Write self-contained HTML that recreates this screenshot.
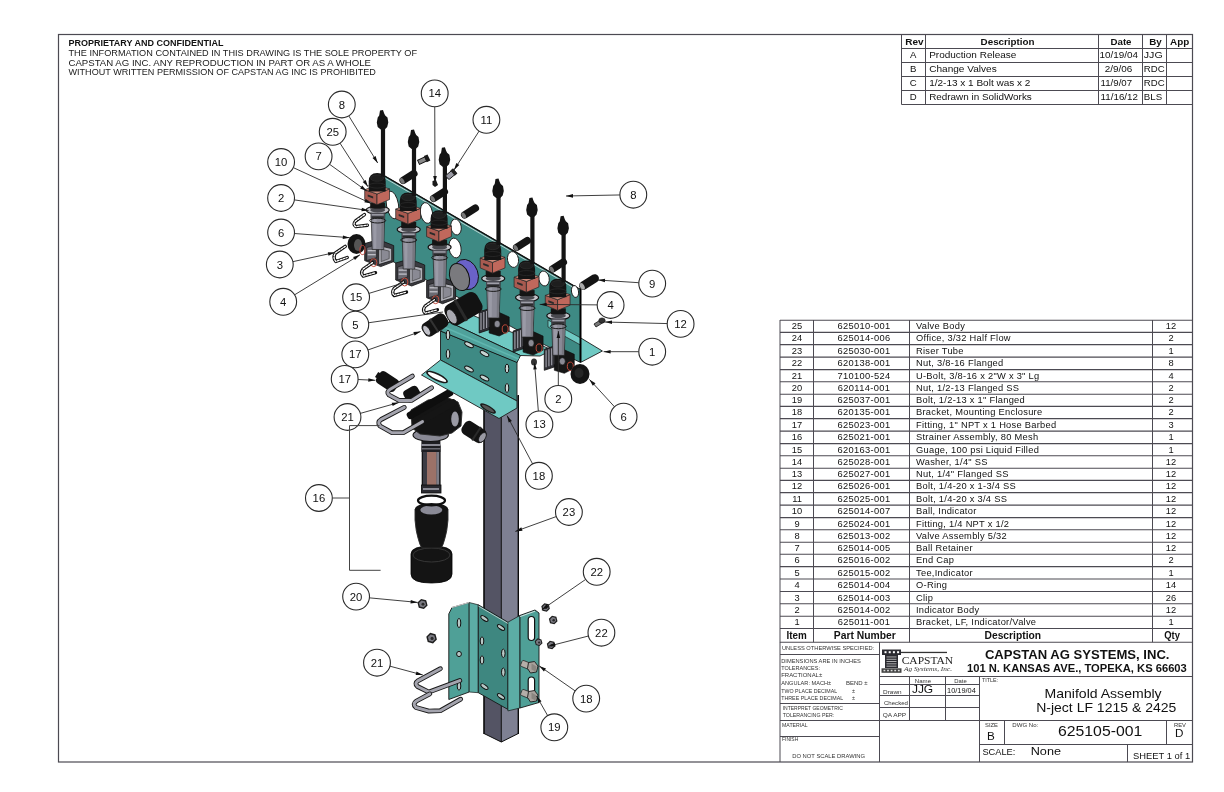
<!DOCTYPE html>
<html><head><meta charset="utf-8"><title>Manifold Assembly</title>
<style>html,body{margin:0;padding:0;background:#fff;width:1224px;height:792px;overflow:hidden}svg{display:block;will-change:transform}text{font-family:"Liberation Sans",sans-serif}</style>
</head><body>
<svg width="1224" height="792" viewBox="0 0 1224 792">
<rect width="1224" height="792" fill="#fff"/>
<polygon points="484.0,395.0 501.3,404.0 501.3,742.0 484.0,733.5" fill="#545464" stroke="none" stroke-width="0.8" />
<polygon points="501.3,404.0 518.3,395.0 518.3,733.5 501.3,742.0" fill="#7e8092" stroke="none" stroke-width="0.8" />
<line x1="484" y1="395" x2="484" y2="734" stroke="#0a0a0a" stroke-width="1.6"/>
<line x1="518.3" y1="395" x2="518.3" y2="734" stroke="#0a0a0a" stroke-width="1.4"/>
<line x1="501.3" y1="404" x2="501.3" y2="742" stroke="#0a0a0a" stroke-width="1.0"/>
<path d="M484,733.5 L501.3,742 L518.3,733.5" fill="none" stroke="#0a0a0a" stroke-width="1.0" />
<polygon points="448.8,613.9 452.0,607.5 469.2,602.5 469.2,692.0 448.8,699.5" fill="#4fa097" stroke="#151515" stroke-width="0.9" />
<polygon points="469.2,602.5 478.3,604.8 478.3,692.7 469.2,692.0" fill="#5cada5" stroke="#151515" stroke-width="0.7" />
<polygon points="478.3,604.8 507.9,622.2 507.9,709.4 478.3,692.7" fill="#3e8780" stroke="#151515" stroke-width="0.9" />
<polygon points="507.9,622.2 520.0,615.4 520.0,708.0 507.9,710.9" fill="#5cada5" stroke="#151515" stroke-width="0.7" />
<polygon points="520.0,615.4 535.0,610.0 539.0,613.0 539.0,702.5 520.0,708.0" fill="#4fa097" stroke="#151515" stroke-width="0.9" />
<line x1="452" y1="607.5" x2="469.2" y2="602.5" stroke="#f4f4f4" stroke-width="0.8"/>
<line x1="478.3" y1="606" x2="507.9" y2="623.4" stroke="#e8e8e8" stroke-width="0.7"/>
<line x1="520" y1="616.6" x2="535" y2="611.2" stroke="#f4f4f4" stroke-width="0.8"/>
<ellipse cx="459" cy="623" rx="1.8" ry="4.6" fill="#b8c8c6" stroke="#111" stroke-width="1.0" />
<ellipse cx="459" cy="654" rx="2.4" ry="2.6" fill="#b8c8c6" stroke="#111" stroke-width="1.0" />
<ellipse cx="459" cy="686" rx="1.8" ry="4.2" fill="#b8c8c6" stroke="#111" stroke-width="1.0" />
<ellipse cx="484.4" cy="618.5" rx="4.2" ry="1.8" fill="#b8c8c6" stroke="#111" stroke-width="1.0" transform="rotate(35 484.4 618.5)"/>
<ellipse cx="501" cy="627.5" rx="4.2" ry="1.8" fill="#b8c8c6" stroke="#111" stroke-width="1.0" transform="rotate(35 501 627.5)"/>
<ellipse cx="482" cy="641" rx="1.8" ry="4.2" fill="#b8c8c6" stroke="#111" stroke-width="1.0" />
<ellipse cx="482" cy="660" rx="1.8" ry="4.2" fill="#b8c8c6" stroke="#111" stroke-width="1.0" />
<ellipse cx="503.3" cy="653.3" rx="1.8" ry="4.2" fill="#b8c8c6" stroke="#111" stroke-width="1.0" />
<ellipse cx="503.3" cy="672.2" rx="1.8" ry="4.2" fill="#b8c8c6" stroke="#111" stroke-width="1.0" />
<ellipse cx="484.4" cy="686.6" rx="4.2" ry="1.8" fill="#b8c8c6" stroke="#111" stroke-width="1.0" transform="rotate(35 484.4 686.6)"/>
<ellipse cx="501" cy="696.5" rx="4.2" ry="1.8" fill="#b8c8c6" stroke="#111" stroke-width="1.0" transform="rotate(35 501 696.5)"/>
<rect x="528.2" y="616.5" width="6.4" height="24" rx="3.2" fill="#fff" stroke="#111" stroke-width="1.2" />
<rect x="528.2" y="677" width="6.4" height="19" rx="3.2" fill="#fff" stroke="#111" stroke-width="1.2" />
<g transform="translate(532.5,667.5) rotate(22)"><rect x="-12" y="-3.2" width="11" height="6.4" rx="1.5" fill="#b4aea8" stroke="#222" stroke-width="0.7"/></g>
<polygon points="528.5,662.5 534.5,661.5 538.0,666.0 536.5,672.0 530.5,673.0 527.5,668.5" fill="#a8a29c" stroke="#1a1a1a" stroke-width="0.9" />
<polygon points="531.5,663.5 536.5,666.5 535.5,671.5 531.5,669.5" fill="#8a8680" stroke="none" stroke-width="0.8" />
<g transform="translate(532.5,696.5) rotate(22)"><rect x="-12" y="-3.2" width="11" height="6.4" rx="1.5" fill="#b4aea8" stroke="#222" stroke-width="0.7"/></g>
<polygon points="528.5,691.5 534.5,690.5 538.0,695.0 536.5,701.0 530.5,702.0 527.5,697.5" fill="#a8a29c" stroke="#1a1a1a" stroke-width="0.9" />
<polygon points="531.5,692.5 536.5,695.5 535.5,700.5 531.5,698.5" fill="#8a8680" stroke="none" stroke-width="0.8" />
<polygon points="427.6,605.4 423.9,609.1 418.8,607.7 417.4,602.6 421.1,598.9 426.2,600.3" fill="#1e1e1e" stroke="none" stroke-width="0.8" />
<polygon points="426.1,605.0 423.5,607.6 419.9,606.6 418.9,603.0 421.5,600.4 425.1,601.4" fill="#7a7a82" stroke="none" stroke-width="0.8" />
<ellipse cx="423.0" cy="604.3" rx="1.484" ry="1.484" fill="#2a2a2a" stroke="none" stroke-width="0.8" />
<polygon points="436.9,639.5 433.0,643.4 427.7,642.0 426.3,636.7 430.2,632.8 435.5,634.2" fill="#1e1e1e" stroke="none" stroke-width="0.8" />
<polygon points="435.3,639.1 432.6,641.8 428.9,640.8 427.9,637.1 430.6,634.4 434.3,635.4" fill="#7a7a82" stroke="none" stroke-width="0.8" />
<ellipse cx="432.1" cy="638.4" rx="1.54" ry="1.54" fill="#2a2a2a" stroke="none" stroke-width="0.8" />
<polygon points="549.9,608.7 546.8,611.8 542.4,610.7 541.3,606.3 544.4,603.2 548.8,604.3" fill="#1e1e1e" stroke="none" stroke-width="0.8" />
<polygon points="548.6,608.3 546.4,610.5 543.4,609.7 542.6,606.7 544.8,604.5 547.8,605.3" fill="#7a7a82" stroke="none" stroke-width="0.8" />
<ellipse cx="546.1" cy="607.8" rx="1.2600000000000002" ry="1.2600000000000002" fill="#2a2a2a" stroke="none" stroke-width="0.8" />
<polygon points="557.5,621.2 554.4,624.3 550.0,623.2 548.9,618.8 552.0,615.7 556.4,616.8" fill="#1e1e1e" stroke="none" stroke-width="0.8" />
<polygon points="556.2,620.8 554.0,623.0 551.0,622.2 550.2,619.2 552.4,617.0 555.4,617.8" fill="#7a7a82" stroke="none" stroke-width="0.8" />
<ellipse cx="553.7" cy="620.3" rx="1.2600000000000002" ry="1.2600000000000002" fill="#2a2a2a" stroke="none" stroke-width="0.8" />
<polygon points="555.4,646.2 552.3,649.3 547.9,648.2 546.8,643.8 549.9,640.7 554.3,641.8" fill="#1e1e1e" stroke="none" stroke-width="0.8" />
<polygon points="554.1,645.8 551.9,648.0 548.9,647.2 548.1,644.2 550.3,642.0 553.3,642.8" fill="#7a7a82" stroke="none" stroke-width="0.8" />
<ellipse cx="551.6" cy="645.3" rx="1.2600000000000002" ry="1.2600000000000002" fill="#2a2a2a" stroke="none" stroke-width="0.8" />
<polygon points="542.5,643.2 539.6,646.1 535.8,645.0 534.7,641.2 537.6,638.3 541.4,639.4" fill="#1e1e1e" stroke="none" stroke-width="0.8" />
<polygon points="541.3,642.9 539.3,644.9 536.6,644.2 535.9,641.5 537.9,639.5 540.6,640.2" fill="#7a7a82" stroke="none" stroke-width="0.8" />
<ellipse cx="539.1" cy="642.5" rx="1.12" ry="1.12" fill="#2a2a2a" stroke="none" stroke-width="0.8" />
<path d="M440.4,668.7 L418.3,680.6 Q414,683.5 417.5,686.5 L428.9,692.1 L459.8,680.6" fill="none" stroke="#1a1a1a" stroke-width="4.8" stroke-linecap="round" stroke-linejoin="round"/>
<path d="M440.4,668.7 L418.3,680.6 Q414,683.5 417.5,686.5 L428.9,692.1 L459.8,680.6" fill="none" stroke="#a4a4ae" stroke-width="3.0" stroke-linecap="round" stroke-linejoin="round"/>
<path d="M429.8,693.9 L416.5,701 Q412,704 416,707.5 L428.9,711.1 L440.4,710.7 L460.7,699.2" fill="none" stroke="#1a1a1a" stroke-width="4.8" stroke-linecap="round" stroke-linejoin="round"/>
<path d="M429.8,693.9 L416.5,701 Q412,704 416,707.5 L428.9,711.1 L440.4,710.7 L460.7,699.2" fill="none" stroke="#a4a4ae" stroke-width="3.0" stroke-linecap="round" stroke-linejoin="round"/>
<path d="M411,554 Q411,546 431.5,546 Q452,546 452,554 L452,574 Q452,583 431.5,583 Q411,583 411,574 Z" fill="#141414" stroke="#000" stroke-width="0.8" />
<ellipse cx="431.5" cy="555" rx="18.5" ry="7" fill="none" stroke="#3a3a3a" stroke-width="0.9" />
<path d="M415,509 L448,509 L448,520 Q447,532 445,538 Q443,546 441,548 L422,548 Q420,546 418,538 Q416,532 415,520 Z" fill="#141414" stroke="#2a2a2a" stroke-width="0.9" />
<ellipse cx="431.5" cy="509" rx="16.5" ry="6" fill="#141414" stroke="none" stroke-width="0.8" />
<ellipse cx="431.3" cy="510" rx="11" ry="4.5" fill="#8a8a96" stroke="none" stroke-width="0.8" />
<ellipse cx="431.5" cy="500.5" rx="13.5" ry="4.8" fill="none" stroke="#0e0e0e" stroke-width="2.2" />
<rect x="422.3" y="446" width="17.7" height="46" rx="0" fill="#3c3c44" stroke="#0a0a0a" stroke-width="1.2" />
<rect x="427" y="452" width="9.5" height="34" rx="0" fill="#9c7268" stroke="none" stroke-width="0.8" />
<rect x="436.5" y="452" width="2.6" height="34" rx="0" fill="#7c7c86" stroke="none" stroke-width="0.8" />
<rect x="421.5" y="485" width="19.5" height="8" rx="0" fill="#2a2a30" stroke="#0a0a0a" stroke-width="0.8" />
<rect x="423" y="488" width="16" height="2" rx="0" fill="#8a8a94" stroke="none" stroke-width="0.8" />
<rect x="421.4" y="441" width="19" height="11" rx="0" fill="#1e1e22" stroke="none" stroke-width="0.8" />
<rect x="421.4" y="444" width="19" height="2" rx="0" fill="#8a8a94" stroke="none" stroke-width="0.8" />
<rect x="421.4" y="448" width="19" height="1.5" rx="0" fill="#6a6a72" stroke="none" stroke-width="0.8" />
<ellipse cx="430.7" cy="435" rx="17.7" ry="6.5" fill="#8a8a96" stroke="#111" stroke-width="1.1" />
<path d="M411,410 L428,400 L446,397 L458,402 L462,412 L461,426 L452,433 L440,436 L420,434 L412,428 Z" fill="#141414" stroke="#2a2a2a" stroke-width="0.9" />
<g transform="translate(412,394) rotate(-30)"><rect x="-8" y="-6.5" width="16" height="13" rx="4" fill="#121212"/></g>
<g transform="translate(430,404) rotate(-30)"><rect x="-26" y="-3.8" width="52" height="7.6" rx="3" fill="#0e0e0e"/></g>
<g transform="translate(437,412) rotate(-30)"><rect x="-22" y="-3.5" width="44" height="7" rx="3" fill="#151515"/></g>
<ellipse cx="455" cy="419" rx="5.5" ry="9" fill="#151515" stroke="none" stroke-width="0.8" />
<ellipse cx="455" cy="419" rx="3.8" ry="7.5" fill="#9a9aa4" stroke="none" stroke-width="0.8" />
<g transform="translate(474,432) rotate(33)"><rect x="-12.5" y="-7.5" width="25" height="15" rx="5" fill="#121212"/><rect x="2" y="-8" width="2" height="16" fill="#2a2a2a"/><ellipse cx="10" cy="0" rx="3" ry="5.5" fill="#9a9aa4" stroke="#111" stroke-width="0.7"/></g>
<g transform="translate(387.5,381.5) rotate(33)"><rect x="-11" y="-7" width="22" height="14" rx="4" fill="#121212"/><rect x="-13" y="-3" width="4" height="6" fill="#121212"/></g>
<path d="M412.4,376.1 L390.2,389.2 Q386,392 389,395 L399,400.4 L411.4,400.4 L431.6,387.7" fill="none" stroke="#1a1a1a" stroke-width="4.8" stroke-linecap="round" stroke-linejoin="round"/>
<path d="M412.4,376.1 L390.2,389.2 Q386,392 389,395 L399,400.4 L411.4,400.4 L431.6,387.7" fill="none" stroke="#a4a4ae" stroke-width="3.0" stroke-linecap="round" stroke-linejoin="round"/>
<path d="M404.3,407.4 L381.1,419.5 Q377,422 380,426 L392,432.7 L403.3,432.7 L422.5,421.6" fill="none" stroke="#1a1a1a" stroke-width="4.8" stroke-linecap="round" stroke-linejoin="round"/>
<path d="M404.3,407.4 L381.1,419.5 Q377,422 380,426 L392,432.7 L403.3,432.7 L422.5,421.6" fill="none" stroke="#a4a4ae" stroke-width="3.0" stroke-linecap="round" stroke-linejoin="round"/>
<polygon points="440.5,331.0 517.0,362.0 517.0,401.0 440.5,360.0" fill="#3e8a84" stroke="#1c1c1c" stroke-width="0.9" />
<polygon points="449.0,322.0 458.0,316.0 470.0,314.0 552.0,350.0 540.0,356.0 520.5,355.5" fill="#6fc9c3" stroke="#1c1c1c" stroke-width="0.9" />
<polygon points="440.5,331.0 449.0,322.0 520.5,355.5 517.0,362.5" fill="#4fa19b" stroke="#111" stroke-width="0.9" />
<line x1="444" y1="327" x2="518.5" y2="359" stroke="#5fb5ae" stroke-width="1.6"/>
<polygon points="440.5,360.0 517.0,401.0 517.0,408.0 499.0,418.5 421.5,375.0" fill="#6fc9c3" stroke="#1c1c1c" stroke-width="0.9" />
<ellipse cx="437" cy="377" rx="12" ry="3.8" fill="#1a1a1a" stroke="none" stroke-width="0" transform="rotate(26 437 377)"/>
<ellipse cx="437" cy="377" rx="10.2" ry="2.2" fill="#fff" stroke="none" stroke-width="0" transform="rotate(26 437 377)"/>
<ellipse cx="488" cy="408.5" rx="9" ry="3" fill="#1a1a1a" stroke="none" stroke-width="0" transform="rotate(30 488 408.5)"/>
<ellipse cx="488" cy="408.5" rx="7" ry="1.6" fill="#555" stroke="none" stroke-width="0" transform="rotate(30 488 408.5)"/>
<ellipse cx="448" cy="335" rx="1.8" ry="4.8" fill="#c8d4d2" stroke="#111" stroke-width="1.0" />
<ellipse cx="448" cy="354" rx="1.8" ry="4.6" fill="#c8d4d2" stroke="#111" stroke-width="1.0" />
<ellipse cx="469" cy="344.7" rx="4.8" ry="2" fill="#c8d4d2" stroke="#111" stroke-width="1.0" transform="rotate(28 469 344.7)"/>
<ellipse cx="484.5" cy="353.6" rx="4.8" ry="2" fill="#c8d4d2" stroke="#111" stroke-width="1.0" transform="rotate(28 484.5 353.6)"/>
<ellipse cx="469" cy="369" rx="4.8" ry="2" fill="#c8d4d2" stroke="#111" stroke-width="1.0" transform="rotate(28 469 369)"/>
<ellipse cx="484.5" cy="378" rx="4.8" ry="2" fill="#c8d4d2" stroke="#111" stroke-width="1.0" transform="rotate(28 484.5 378)"/>
<ellipse cx="507" cy="368.5" rx="1.8" ry="4.5" fill="#c8d4d2" stroke="#111" stroke-width="1.0" />
<ellipse cx="507" cy="388" rx="1.8" ry="4.5" fill="#c8d4d2" stroke="#111" stroke-width="1.0" />
<polygon points="383.0,175.0 578.5,288.5 580.5,288.5 580.5,362.5 541.0,343.0 383.0,256.0" fill="#3e8a84" stroke="#1c1c1c" stroke-width="0.9" />
<line x1="383" y1="175" x2="578.5" y2="288.5" stroke="#111" stroke-width="1.4"/>
<line x1="383" y1="177" x2="578.5" y2="290.5" stroke="#f0f0f0" stroke-width="0.7"/>
<polygon points="548.0,320.0 580.5,337.8 580.5,345.0 548.0,327.0" fill="#6fc9c3" stroke="#1c1c1c" stroke-width="0.7" />
<polygon points="580.5,337.8 602.4,351.0 580.5,362.5" fill="#6fc9c3" stroke="#1c1c1c" stroke-width="0.9" />
<line x1="580.5" y1="289" x2="580.5" y2="362" stroke="#000" stroke-width="2"/>
<ellipse cx="392.5" cy="205" rx="6" ry="14" fill="#fff" stroke="#1a1a1a" stroke-width="0.9" transform="rotate(-10 392.5 205)"/>
<ellipse cx="426.5" cy="213" rx="6" ry="10.5" fill="#fff" stroke="#1a1a1a" stroke-width="0.9" transform="rotate(-10 426.5 213)"/>
<ellipse cx="456" cy="227" rx="5.2" ry="8" fill="#fff" stroke="#1a1a1a" stroke-width="0.9" transform="rotate(-10 456 227)"/>
<ellipse cx="513" cy="259.5" rx="5.5" ry="8" fill="#fff" stroke="#1a1a1a" stroke-width="0.9" transform="rotate(-10 513 259.5)"/>
<ellipse cx="544" cy="278.5" rx="5.2" ry="7.5" fill="#fff" stroke="#1a1a1a" stroke-width="0.9" transform="rotate(-10 544 278.5)"/>
<ellipse cx="575" cy="291.5" rx="3.5" ry="6" fill="#fff" stroke="#1a1a1a" stroke-width="0.9" transform="rotate(-10 575 291.5)"/>
<ellipse cx="455" cy="248" rx="6" ry="10" fill="#fff" stroke="#1a1a1a" stroke-width="0.9" transform="rotate(-10 455 248)"/>
<g transform="translate(408.5,177) rotate(-32)"><rect x="-10.0" y="-3.75" width="20" height="7.5" rx="3.75" fill="#141414"/><ellipse cx="-7.375" cy="0" rx="1.875" ry="3.15" fill="#777"/></g>
<g transform="translate(439,195) rotate(-32)"><rect x="-10.0" y="-3.75" width="20" height="7.5" rx="3.75" fill="#141414"/><ellipse cx="-7.375" cy="0" rx="1.875" ry="3.15" fill="#777"/></g>
<g transform="translate(470,211.5) rotate(-32)"><rect x="-10.0" y="-3.75" width="20" height="7.5" rx="3.75" fill="#141414"/><ellipse cx="-7.375" cy="0" rx="1.875" ry="3.15" fill="#777"/></g>
<g transform="translate(522,244) rotate(-32)"><rect x="-10.0" y="-3.75" width="20" height="7.5" rx="3.75" fill="#141414"/><ellipse cx="-7.375" cy="0" rx="1.875" ry="3.15" fill="#777"/></g>
<g transform="translate(558,265.5) rotate(-32)"><rect x="-10.0" y="-3.75" width="20" height="7.5" rx="3.75" fill="#141414"/><ellipse cx="-7.375" cy="0" rx="1.875" ry="3.15" fill="#777"/></g>
<g transform="translate(589,282) rotate(-32)"><rect x="-11.0" y="-4.25" width="22" height="8.5" rx="4.25" fill="#141414"/><ellipse cx="-8.025" cy="0" rx="2.125" ry="3.57" fill="#aaa"/></g>
<polygon points="364.7,243.6 378.7,239.6 393.7,245.6 393.7,261.6 380.7,266.6 364.7,260.6" fill="#3a3a40" stroke="#111" stroke-width="0.8"/><polygon points="378.7,245.6 391.7,248.6 391.7,260.6 378.7,264.6" fill="#b0b0b8" stroke="#1a1a1a" stroke-width="0.8"/><polygon points="381.2,249.1 389.2,251.1 389.2,258.6 381.2,261.6" fill="#8a8a94" stroke="#333" stroke-width="0.6"/><polygon points="366.7,247.6 376.7,244.6 376.7,257.6 366.7,260.6" fill="#6a6a72" stroke="#111" stroke-width="0.6"/><rect x="367.7" y="250.1" width="8" height="1.2" rx="0" fill="#c8c8d0" stroke="none" stroke-width="0.8"/><rect x="367.7" y="254.1" width="8" height="1.2" rx="0" fill="#c8c8d0" stroke="none" stroke-width="0.8"/><ellipse cx="373.7" cy="262.6" rx="3.2" ry="4" fill="none" stroke="#c04a3a" stroke-width="1.0"/><path d="M 372.5 262.6 L 363.2 269.1 Q 360.2 273.1 363.2 276.1 L 375.5 272.7" fill="none" stroke="#111" stroke-width="3.4" stroke-linecap="round" stroke-linejoin="round"/><path d="M 372.5 262.6 L 363.2 269.1 Q 360.2 273.1 363.2 276.1 L 375.5 272.7" fill="none" stroke="#fff" stroke-width="1.3" stroke-dasharray="1.8 1.4" stroke-linecap="round" stroke-linejoin="round"/><polygon points="371.0,210.6 384.9,210.6 383.7,249.6 372.2,249.6" fill="#8a8a96" stroke="#222" stroke-width="0.7"/><polygon points="373.2,211.6 376.7,211.6 376.2,248.6 373.7,248.6" fill="#9a9aa6" stroke="none" stroke-width="0.8"/><polygon points="381.7,211.6 384.3,211.6 383.2,248.6 381.2,248.6" fill="#76767f" stroke="none" stroke-width="0.8"/><ellipse cx="377.7" cy="210.1" rx="11.5" ry="4" fill="#c4c4ca" stroke="#111" stroke-width="1.1"/><ellipse cx="377.7" cy="210.1" rx="7.5" ry="2.4" fill="#4a4a50" stroke="none" stroke-width="0.8"/><polygon points="370.7,212.6 384.7,212.6 384.7,218.6 370.7,218.6" fill="#4a4a52" stroke="none" stroke-width="0.8"/><rect x="371.7" y="214.1" width="12" height="1.5" rx="0" fill="#a0a0aa" stroke="none" stroke-width="0.8"/><rect x="371.7" y="216.6" width="12" height="1.2" rx="0" fill="#2a2a2a" stroke="none" stroke-width="0.8"/><ellipse cx="377.7" cy="220.6" rx="8" ry="2.4" fill="none" stroke="#1a1a1a" stroke-width="1.0"/><rect x="370.2" y="202.6" width="15" height="6" rx="0" fill="#151515" stroke="none" stroke-width="0.8"/><polygon points="364.7,189.7 377.0,194.0 377.0,204.8 364.7,199.5" fill="#a85a50" stroke="#222" stroke-width="0.7"/><polygon points="377.0,194.0 389.5,188.9 389.5,199.5 377.0,204.8" fill="#c0685c" stroke="#222" stroke-width="0.7"/><polygon points="364.7,189.7 377.2,185.1 389.5,188.9 377.0,194.0" fill="#cc8878" stroke="#222" stroke-width="0.7"/><polygon points="367.7,194.6 373.2,196.6 373.2,198.6 367.7,196.6" fill="#2a2a2a" stroke="none" stroke-width="0.8"/><path d="M 368.7 191.6 L 368.7 181.6 Q 368.7 173.1 377.2 173.1 Q 385.7 173.1 385.7 181.6 L 385.7 191.6 Z" fill="#141414" stroke="none" stroke-width="0" /><ellipse cx="377.2" cy="178.1" rx="6.5" ry="3.2" fill="#1e1e1e" stroke="#333" stroke-width="0.6"/><ellipse cx="377.2" cy="185.6" rx="8.3" ry="2.5" fill="none" stroke="#2c2c2c" stroke-width="0.7"/><rect x="380.9" y="128.6" width="4.2" height="48" rx="0" fill="#141414" stroke="none" stroke-width="0.8"/><polygon points="380.0,110.6 383.0,110.1 384.2,113.6 385.2,115.6 387.5,117.6 388.3,122.6 387.2,127.1 384.7,129.6 380.7,129.6 377.7,127.1 376.8,122.6 377.7,117.6 379.2,115.6" fill="#141414" stroke="none" stroke-width="0.8"/>
<polygon points="395.7,263.0 409.7,259.0 424.7,265.0 424.7,281.0 411.7,286.0 395.7,280.0" fill="#3a3a40" stroke="#111" stroke-width="0.8"/><polygon points="409.7,265.0 422.7,268.0 422.7,280.0 409.7,284.0" fill="#b0b0b8" stroke="#1a1a1a" stroke-width="0.8"/><polygon points="412.2,268.5 420.2,270.5 420.2,278.0 412.2,281.0" fill="#8a8a94" stroke="#333" stroke-width="0.6"/><polygon points="397.7,267.0 407.7,264.0 407.7,277.0 397.7,280.0" fill="#6a6a72" stroke="#111" stroke-width="0.6"/><rect x="398.7" y="269.5" width="8" height="1.2" rx="0" fill="#c8c8d0" stroke="none" stroke-width="0.8"/><rect x="398.7" y="273.5" width="8" height="1.2" rx="0" fill="#c8c8d0" stroke="none" stroke-width="0.8"/><ellipse cx="404.7" cy="282.0" rx="3.2" ry="4" fill="none" stroke="#c04a3a" stroke-width="1.0"/><path d="M 403.5 282.0 L 394.2 288.5 Q 391.2 292.5 394.2 295.5 L 406.5 292.1" fill="none" stroke="#111" stroke-width="3.4" stroke-linecap="round" stroke-linejoin="round"/><path d="M 403.5 282.0 L 394.2 288.5 Q 391.2 292.5 394.2 295.5 L 406.5 292.1" fill="none" stroke="#fff" stroke-width="1.3" stroke-dasharray="1.8 1.4" stroke-linecap="round" stroke-linejoin="round"/><polygon points="402.0,230.0 415.9,230.0 414.7,269.0 403.2,269.0" fill="#8a8a96" stroke="#222" stroke-width="0.7"/><polygon points="404.2,231.0 407.7,231.0 407.2,268.0 404.7,268.0" fill="#9a9aa6" stroke="none" stroke-width="0.8"/><polygon points="412.7,231.0 415.3,231.0 414.2,268.0 412.2,268.0" fill="#76767f" stroke="none" stroke-width="0.8"/><ellipse cx="408.7" cy="229.5" rx="11.5" ry="4" fill="#c4c4ca" stroke="#111" stroke-width="1.1"/><ellipse cx="408.7" cy="229.5" rx="7.5" ry="2.4" fill="#4a4a50" stroke="none" stroke-width="0.8"/><polygon points="401.7,232.0 415.7,232.0 415.7,238.0 401.7,238.0" fill="#4a4a52" stroke="none" stroke-width="0.8"/><rect x="402.7" y="233.5" width="12" height="1.5" rx="0" fill="#a0a0aa" stroke="none" stroke-width="0.8"/><rect x="402.7" y="236.0" width="12" height="1.2" rx="0" fill="#2a2a2a" stroke="none" stroke-width="0.8"/><ellipse cx="408.7" cy="240.0" rx="8" ry="2.4" fill="none" stroke="#1a1a1a" stroke-width="1.0"/><rect x="401.2" y="222.0" width="15" height="6" rx="0" fill="#151515" stroke="none" stroke-width="0.8"/><polygon points="395.7,209.1 408.0,213.4 408.0,224.2 395.7,218.9" fill="#a85a50" stroke="#222" stroke-width="0.7"/><polygon points="408.0,213.4 420.5,208.3 420.5,218.9 408.0,224.2" fill="#c0685c" stroke="#222" stroke-width="0.7"/><polygon points="395.7,209.1 408.2,204.5 420.5,208.3 408.0,213.4" fill="#cc8878" stroke="#222" stroke-width="0.7"/><polygon points="398.7,214.0 404.2,216.0 404.2,218.0 398.7,216.0" fill="#2a2a2a" stroke="none" stroke-width="0.8"/><path d="M 399.7 211.0 L 399.7 201.0 Q 399.7 192.5 408.2 192.5 Q 416.7 192.5 416.7 201.0 L 416.7 211.0 Z" fill="#141414" stroke="none" stroke-width="0" /><ellipse cx="408.2" cy="197.5" rx="6.5" ry="3.2" fill="#1e1e1e" stroke="#333" stroke-width="0.6"/><ellipse cx="408.2" cy="205.0" rx="8.3" ry="2.5" fill="none" stroke="#2c2c2c" stroke-width="0.7"/><rect x="411.9" y="148.0" width="4.2" height="48" rx="0" fill="#141414" stroke="none" stroke-width="0.8"/><polygon points="411.0,130.0 414.0,129.5 415.2,133.0 416.2,135.0 418.5,137.0 419.3,142.0 418.2,146.5 415.7,149.0 411.7,149.0 408.7,146.5 407.8,142.0 408.7,137.0 410.2,135.0" fill="#141414" stroke="none" stroke-width="0.8"/>
<polygon points="426.6,280.7 440.6,276.7 455.6,282.7 455.6,298.7 442.6,303.7 426.6,297.7" fill="#3a3a40" stroke="#111" stroke-width="0.8"/><polygon points="440.6,282.7 453.6,285.7 453.6,297.7 440.6,301.7" fill="#b0b0b8" stroke="#1a1a1a" stroke-width="0.8"/><polygon points="443.1,286.2 451.1,288.2 451.1,295.7 443.1,298.7" fill="#8a8a94" stroke="#333" stroke-width="0.6"/><polygon points="428.6,284.7 438.6,281.7 438.6,294.7 428.6,297.7" fill="#6a6a72" stroke="#111" stroke-width="0.6"/><rect x="429.6" y="287.2" width="8" height="1.2" rx="0" fill="#c8c8d0" stroke="none" stroke-width="0.8"/><rect x="429.6" y="291.2" width="8" height="1.2" rx="0" fill="#c8c8d0" stroke="none" stroke-width="0.8"/><ellipse cx="435.6" cy="299.7" rx="3.2" ry="4" fill="none" stroke="#c04a3a" stroke-width="1.0"/><path d="M 434.4 299.7 L 425.1 306.2 Q 422.1 310.2 425.1 313.2 L 437.4 309.8" fill="none" stroke="#111" stroke-width="3.4" stroke-linecap="round" stroke-linejoin="round"/><path d="M 434.4 299.7 L 425.1 306.2 Q 422.1 310.2 425.1 313.2 L 437.4 309.8" fill="none" stroke="#fff" stroke-width="1.3" stroke-dasharray="1.8 1.4" stroke-linecap="round" stroke-linejoin="round"/><polygon points="432.9,247.7 446.8,247.7 445.6,286.7 434.1,286.7" fill="#8a8a96" stroke="#222" stroke-width="0.7"/><polygon points="435.1,248.7 438.6,248.7 438.1,285.7 435.6,285.7" fill="#9a9aa6" stroke="none" stroke-width="0.8"/><polygon points="443.6,248.7 446.2,248.7 445.1,285.7 443.1,285.7" fill="#76767f" stroke="none" stroke-width="0.8"/><ellipse cx="439.6" cy="247.2" rx="11.5" ry="4" fill="#c4c4ca" stroke="#111" stroke-width="1.1"/><ellipse cx="439.6" cy="247.2" rx="7.5" ry="2.4" fill="#4a4a50" stroke="none" stroke-width="0.8"/><polygon points="432.6,249.7 446.6,249.7 446.6,255.7 432.6,255.7" fill="#4a4a52" stroke="none" stroke-width="0.8"/><rect x="433.6" y="251.2" width="12" height="1.5" rx="0" fill="#a0a0aa" stroke="none" stroke-width="0.8"/><rect x="433.6" y="253.7" width="12" height="1.2" rx="0" fill="#2a2a2a" stroke="none" stroke-width="0.8"/><ellipse cx="439.6" cy="257.7" rx="8" ry="2.4" fill="none" stroke="#1a1a1a" stroke-width="1.0"/><rect x="432.1" y="239.7" width="15" height="6" rx="0" fill="#151515" stroke="none" stroke-width="0.8"/><polygon points="426.6,226.8 438.9,231.1 438.9,241.9 426.6,236.6" fill="#a85a50" stroke="#222" stroke-width="0.7"/><polygon points="438.9,231.1 451.4,226.0 451.4,236.6 438.9,241.9" fill="#c0685c" stroke="#222" stroke-width="0.7"/><polygon points="426.6,226.8 439.1,222.2 451.4,226.0 438.9,231.1" fill="#cc8878" stroke="#222" stroke-width="0.7"/><polygon points="429.6,231.7 435.1,233.7 435.1,235.7 429.6,233.7" fill="#2a2a2a" stroke="none" stroke-width="0.8"/><path d="M 430.6 228.7 L 430.6 218.7 Q 430.6 210.2 439.1 210.2 Q 447.6 210.2 447.6 218.7 L 447.6 228.7 Z" fill="#141414" stroke="none" stroke-width="0" /><ellipse cx="439.1" cy="215.2" rx="6.5" ry="3.2" fill="#1e1e1e" stroke="#333" stroke-width="0.6"/><ellipse cx="439.1" cy="222.7" rx="8.3" ry="2.5" fill="none" stroke="#2c2c2c" stroke-width="0.7"/><rect x="442.8" y="165.7" width="4.2" height="48" rx="0" fill="#141414" stroke="none" stroke-width="0.8"/><polygon points="441.9,147.7 444.9,147.2 446.1,150.7 447.1,152.7 449.4,154.7 450.2,159.7 449.1,164.2 446.6,166.7 442.6,166.7 439.6,164.2 438.7,159.7 439.6,154.7 441.1,152.7" fill="#141414" stroke="none" stroke-width="0.8"/>
<polygon points="479.2,312.0 491.2,308.0 491.2,329.0 479.2,333.0" fill="#2e2e34" stroke="#111" stroke-width="0.8"/><rect x="480.4" y="313.0" width="1.2" height="17" rx="0" fill="#9c9ca6" stroke="none" stroke-width="0.8"/><rect x="483.2" y="312.0" width="1.2" height="17" rx="0" fill="#9c9ca6" stroke="none" stroke-width="0.8"/><rect x="486.0" y="311.0" width="1.2" height="17" rx="0" fill="#9c9ca6" stroke="none" stroke-width="0.8"/><rect x="488.8" y="310.0" width="1.2" height="17" rx="0" fill="#9c9ca6" stroke="none" stroke-width="0.8"/><polygon points="489.2,316.0 498.2,312.0 509.2,317.0 509.2,331.0 499.2,336.0 489.2,333.0" fill="#161616" stroke="#0a0a0a" stroke-width="0.6"/><ellipse cx="497.2" cy="324.0" rx="3" ry="3.6" fill="#8a8a94" stroke="#111" stroke-width="0.6"/><ellipse cx="505.2" cy="329.0" rx="3" ry="4.2" fill="none" stroke="#c04a3a" stroke-width="1.0"/><polygon points="486.5,279.0 500.4,279.0 499.2,318.0 487.7,318.0" fill="#8a8a96" stroke="#222" stroke-width="0.7"/><polygon points="488.7,280.0 492.2,280.0 491.7,317.0 489.2,317.0" fill="#9a9aa6" stroke="none" stroke-width="0.8"/><polygon points="497.2,280.0 499.8,280.0 498.7,317.0 496.7,317.0" fill="#76767f" stroke="none" stroke-width="0.8"/><ellipse cx="493.2" cy="278.5" rx="11.5" ry="4" fill="#c4c4ca" stroke="#111" stroke-width="1.1"/><ellipse cx="493.2" cy="278.5" rx="7.5" ry="2.4" fill="#4a4a50" stroke="none" stroke-width="0.8"/><polygon points="486.2,281.0 500.2,281.0 500.2,287.0 486.2,287.0" fill="#4a4a52" stroke="none" stroke-width="0.8"/><rect x="487.2" y="282.5" width="12" height="1.5" rx="0" fill="#a0a0aa" stroke="none" stroke-width="0.8"/><rect x="487.2" y="285.0" width="12" height="1.2" rx="0" fill="#2a2a2a" stroke="none" stroke-width="0.8"/><ellipse cx="493.2" cy="289.0" rx="8" ry="2.4" fill="none" stroke="#1a1a1a" stroke-width="1.0"/><rect x="485.7" y="271.0" width="15" height="6" rx="0" fill="#151515" stroke="none" stroke-width="0.8"/><polygon points="480.2,258.1 492.5,262.4 492.5,273.2 480.2,267.9" fill="#a85a50" stroke="#222" stroke-width="0.7"/><polygon points="492.5,262.4 505.0,257.3 505.0,267.9 492.5,273.2" fill="#c0685c" stroke="#222" stroke-width="0.7"/><polygon points="480.2,258.1 492.7,253.5 505.0,257.3 492.5,262.4" fill="#cc8878" stroke="#222" stroke-width="0.7"/><polygon points="483.2,263.0 488.7,265.0 488.7,267.0 483.2,265.0" fill="#2a2a2a" stroke="none" stroke-width="0.8"/><path d="M 484.2 260.0 L 484.2 250.0 Q 484.2 241.5 492.7 241.5 Q 501.2 241.5 501.2 250.0 L 501.2 260.0 Z" fill="#141414" stroke="none" stroke-width="0" /><ellipse cx="492.7" cy="246.5" rx="6.5" ry="3.2" fill="#1e1e1e" stroke="#333" stroke-width="0.6"/><ellipse cx="492.7" cy="254.0" rx="8.3" ry="2.5" fill="none" stroke="#2c2c2c" stroke-width="0.7"/><rect x="496.4" y="197.0" width="4.2" height="48" rx="0" fill="#141414" stroke="none" stroke-width="0.8"/><polygon points="495.5,179.0 498.5,178.5 499.7,182.0 500.7,184.0 503.0,186.0 503.8,191.0 502.7,195.5 500.2,198.0 496.2,198.0 493.2,195.5 492.3,191.0 493.2,186.0 494.7,184.0" fill="#141414" stroke="none" stroke-width="0.8"/>
<polygon points="513.1,331.1 525.1,327.1 525.1,348.1 513.1,352.1" fill="#2e2e34" stroke="#111" stroke-width="0.8"/><rect x="514.3" y="332.1" width="1.2" height="17" rx="0" fill="#9c9ca6" stroke="none" stroke-width="0.8"/><rect x="517.1" y="331.1" width="1.2" height="17" rx="0" fill="#9c9ca6" stroke="none" stroke-width="0.8"/><rect x="519.9" y="330.1" width="1.2" height="17" rx="0" fill="#9c9ca6" stroke="none" stroke-width="0.8"/><rect x="522.7" y="329.1" width="1.2" height="17" rx="0" fill="#9c9ca6" stroke="none" stroke-width="0.8"/><polygon points="523.1,335.1 532.1,331.1 543.1,336.1 543.1,350.1 533.1,355.1 523.1,352.1" fill="#161616" stroke="#0a0a0a" stroke-width="0.6"/><ellipse cx="531.1" cy="343.1" rx="3" ry="3.6" fill="#8a8a94" stroke="#111" stroke-width="0.6"/><ellipse cx="539.1" cy="348.1" rx="3" ry="4.2" fill="none" stroke="#c04a3a" stroke-width="1.0"/><polygon points="520.4,298.1 534.3,298.1 533.1,337.1 521.6,337.1" fill="#8a8a96" stroke="#222" stroke-width="0.7"/><polygon points="522.6,299.1 526.1,299.1 525.6,336.1 523.1,336.1" fill="#9a9aa6" stroke="none" stroke-width="0.8"/><polygon points="531.1,299.1 533.7,299.1 532.6,336.1 530.6,336.1" fill="#76767f" stroke="none" stroke-width="0.8"/><ellipse cx="527.1" cy="297.6" rx="11.5" ry="4" fill="#c4c4ca" stroke="#111" stroke-width="1.1"/><ellipse cx="527.1" cy="297.6" rx="7.5" ry="2.4" fill="#4a4a50" stroke="none" stroke-width="0.8"/><polygon points="520.1,300.1 534.1,300.1 534.1,306.1 520.1,306.1" fill="#4a4a52" stroke="none" stroke-width="0.8"/><rect x="521.1" y="301.6" width="12" height="1.5" rx="0" fill="#a0a0aa" stroke="none" stroke-width="0.8"/><rect x="521.1" y="304.1" width="12" height="1.2" rx="0" fill="#2a2a2a" stroke="none" stroke-width="0.8"/><ellipse cx="527.1" cy="308.1" rx="8" ry="2.4" fill="none" stroke="#1a1a1a" stroke-width="1.0"/><rect x="519.6" y="290.1" width="15" height="6" rx="0" fill="#151515" stroke="none" stroke-width="0.8"/><polygon points="514.1,277.2 526.4,281.5 526.4,292.3 514.1,287.0" fill="#a85a50" stroke="#222" stroke-width="0.7"/><polygon points="526.4,281.5 538.9,276.4 538.9,287.0 526.4,292.3" fill="#c0685c" stroke="#222" stroke-width="0.7"/><polygon points="514.1,277.2 526.6,272.6 538.9,276.4 526.4,281.5" fill="#cc8878" stroke="#222" stroke-width="0.7"/><polygon points="517.1,282.1 522.6,284.1 522.6,286.1 517.1,284.1" fill="#2a2a2a" stroke="none" stroke-width="0.8"/><path d="M 518.1 279.1 L 518.1 269.1 Q 518.1 260.6 526.6 260.6 Q 535.1 260.6 535.1 269.1 L 535.1 279.1 Z" fill="#141414" stroke="none" stroke-width="0" /><ellipse cx="526.6" cy="265.6" rx="6.5" ry="3.2" fill="#1e1e1e" stroke="#333" stroke-width="0.6"/><ellipse cx="526.6" cy="273.1" rx="8.3" ry="2.5" fill="none" stroke="#2c2c2c" stroke-width="0.7"/><rect x="530.3" y="216.1" width="4.2" height="48" rx="0" fill="#141414" stroke="none" stroke-width="0.8"/><polygon points="529.4,198.1 532.4,197.6 533.6,201.1 534.6,203.1 536.9,205.1 537.7,210.1 536.6,214.6 534.1,217.1 530.1,217.1 527.1,214.6 526.2,210.1 527.1,205.1 528.6,203.1" fill="#141414" stroke="none" stroke-width="0.8"/>
<polygon points="544.3,349.3 556.3,345.3 556.3,366.3 544.3,370.3" fill="#2e2e34" stroke="#111" stroke-width="0.8"/><rect x="545.5" y="350.3" width="1.2" height="17" rx="0" fill="#9c9ca6" stroke="none" stroke-width="0.8"/><rect x="548.3" y="349.3" width="1.2" height="17" rx="0" fill="#9c9ca6" stroke="none" stroke-width="0.8"/><rect x="551.1" y="348.3" width="1.2" height="17" rx="0" fill="#9c9ca6" stroke="none" stroke-width="0.8"/><rect x="553.9" y="347.3" width="1.2" height="17" rx="0" fill="#9c9ca6" stroke="none" stroke-width="0.8"/><polygon points="554.3,353.3 563.3,349.3 574.3,354.3 574.3,368.3 564.3,373.3 554.3,370.3" fill="#161616" stroke="#0a0a0a" stroke-width="0.6"/><ellipse cx="562.3" cy="361.3" rx="3" ry="3.6" fill="#8a8a94" stroke="#111" stroke-width="0.6"/><ellipse cx="570.3" cy="366.3" rx="3" ry="4.2" fill="none" stroke="#c04a3a" stroke-width="1.0"/><polygon points="551.6,316.3 565.5,316.3 564.3,355.3 552.8,355.3" fill="#8a8a96" stroke="#222" stroke-width="0.7"/><polygon points="553.8,317.3 557.3,317.3 556.8,354.3 554.3,354.3" fill="#9a9aa6" stroke="none" stroke-width="0.8"/><polygon points="562.3,317.3 564.9,317.3 563.8,354.3 561.8,354.3" fill="#76767f" stroke="none" stroke-width="0.8"/><ellipse cx="558.3" cy="315.8" rx="11.5" ry="4" fill="#c4c4ca" stroke="#111" stroke-width="1.1"/><ellipse cx="558.3" cy="315.8" rx="7.5" ry="2.4" fill="#4a4a50" stroke="none" stroke-width="0.8"/><polygon points="551.3,318.3 565.3,318.3 565.3,324.3 551.3,324.3" fill="#4a4a52" stroke="none" stroke-width="0.8"/><rect x="552.3" y="319.8" width="12" height="1.5" rx="0" fill="#a0a0aa" stroke="none" stroke-width="0.8"/><rect x="552.3" y="322.3" width="12" height="1.2" rx="0" fill="#2a2a2a" stroke="none" stroke-width="0.8"/><ellipse cx="558.3" cy="326.3" rx="8" ry="2.4" fill="none" stroke="#1a1a1a" stroke-width="1.0"/><rect x="550.8" y="308.3" width="15" height="6" rx="0" fill="#151515" stroke="none" stroke-width="0.8"/><polygon points="545.3,295.4 557.6,299.7 557.6,310.5 545.3,305.2" fill="#a85a50" stroke="#222" stroke-width="0.7"/><polygon points="557.6,299.7 570.1,294.6 570.1,305.2 557.6,310.5" fill="#c0685c" stroke="#222" stroke-width="0.7"/><polygon points="545.3,295.4 557.8,290.8 570.1,294.6 557.6,299.7" fill="#cc8878" stroke="#222" stroke-width="0.7"/><polygon points="548.3,300.3 553.8,302.3 553.8,304.3 548.3,302.3" fill="#2a2a2a" stroke="none" stroke-width="0.8"/><path d="M 549.3 297.3 L 549.3 287.3 Q 549.3 278.8 557.8 278.8 Q 566.3 278.8 566.3 287.3 L 566.3 297.3 Z" fill="#141414" stroke="none" stroke-width="0" /><ellipse cx="557.8" cy="283.8" rx="6.5" ry="3.2" fill="#1e1e1e" stroke="#333" stroke-width="0.6"/><ellipse cx="557.8" cy="291.3" rx="8.3" ry="2.5" fill="none" stroke="#2c2c2c" stroke-width="0.7"/><rect x="561.5" y="234.3" width="4.2" height="48" rx="0" fill="#141414" stroke="none" stroke-width="0.8"/><polygon points="560.6,216.3 563.6,215.8 564.8,219.3 565.8,221.3 568.1,223.3 568.9,228.3 567.8,232.8 565.3,235.3 561.3,235.3 558.3,232.8 557.4,228.3 558.3,223.3 559.8,221.3" fill="#141414" stroke="none" stroke-width="0.8"/>
<path d="M364.4,214.6 L355.5,221 Q352.5,224.5 355.8,226.6 L367.4,225.2" fill="none" stroke="#111" stroke-width="3.4" stroke-linecap="round" stroke-linejoin="round"/>
<path d="M364.4,214.6 L355.5,221 Q352.5,224.5 355.8,226.6 L367.4,225.2" fill="none" stroke="#fff" stroke-width="1.3" stroke-dasharray="1.8 1.4" stroke-linecap="round" stroke-linejoin="round"/>
<path d="M345.2,246.4 L335.5,253 Q332.5,257.5 335.8,261.5 L347.2,257.5" fill="none" stroke="#111" stroke-width="3.4" stroke-linecap="round" stroke-linejoin="round"/>
<path d="M345.2,246.4 L335.5,253 Q332.5,257.5 335.8,261.5 L347.2,257.5" fill="none" stroke="#fff" stroke-width="1.3" stroke-dasharray="1.8 1.4" stroke-linecap="round" stroke-linejoin="round"/>
<ellipse cx="466" cy="274.5" rx="12" ry="15.5" fill="#6a62c8" stroke="#111" stroke-width="0.9" transform="rotate(-20 466 274.5)"/>
<ellipse cx="459.5" cy="277" rx="9.5" ry="14" fill="#7a7a7e" stroke="#111" stroke-width="1" transform="rotate(-20 459.5 277)"/>
<g transform="translate(463,309) rotate(-30)"><rect x="-18" y="-11.5" width="37" height="23" rx="7" fill="#121212"/><rect x="-4" y="-12" width="3" height="24" fill="#2a2a2a"/><ellipse cx="-13.5" cy="1" rx="4.2" ry="8" fill="#a8a8b0" stroke="#111" stroke-width="0.8"/></g>
<g transform="translate(435,325) rotate(-33)"><rect x="-13.5" y="-7.5" width="27" height="15" rx="5" fill="#121212"/><rect x="-2" y="-8" width="2" height="16" fill="#333"/><ellipse cx="-10" cy="0" rx="3" ry="5.6" fill="#c0c0c8" stroke="#111" stroke-width="0.8"/></g>
<ellipse cx="356.5" cy="244" rx="9" ry="10" fill="#141414" stroke="none" stroke-width="0.8" />
<ellipse cx="358" cy="245" rx="4" ry="6" fill="#555" stroke="none" stroke-width="0.8" />
<ellipse cx="580" cy="374" rx="9.5" ry="10" fill="#141414" stroke="none" stroke-width="0.8" />
<ellipse cx="579" cy="373" rx="4.5" ry="5" fill="#262626" stroke="none" stroke-width="0.8" />
<polygon points="594.0,324.0 602.0,319.0 604.0,322.0 596.0,327.0" fill="#777" stroke="#111" stroke-width="0.8" />
<ellipse cx="602" cy="320.5" rx="3.2" ry="2.6" fill="#333" stroke="#111" stroke-width="0.6" />
<polygon points="432.5,181.0 436.0,180.0 438.0,185.0 435.0,187.0 432.5,185.0" fill="#1a1a1a" stroke="none" stroke-width="0.8" />
<g transform="translate(451,174.5) rotate(-40)"><rect x="-5" y="-2.6" width="10" height="5.2" rx="1" fill="#9a9aa4" stroke="#111" stroke-width="0.9"/><rect x="2" y="-3.4" width="3.5" height="6.8" fill="#222"/></g>
<g transform="translate(423.5,160) rotate(-25)"><rect x="-5.5" y="-2.2" width="8" height="4.4" fill="#888" stroke="#111" stroke-width="0.9"/><rect x="2" y="-3.4" width="4" height="6.8" fill="#1a1a1a"/></g>
<ellipse cx="362.5" cy="250" rx="2.6" ry="4.6" fill="none" stroke="#c0443a" stroke-width="1.0" />
<ellipse cx="534" cy="362" rx="3" ry="3.5" fill="#333" stroke="none" stroke-width="0.8" />
<line x1="348.80873967339363" y1="115.9209267658364" x2="377.7" y2="163" stroke="#2a2a2a" stroke-width="0.9"/>
<polygon points="377.7,163.0 372.5,158.0 375.6,156.1" fill="#111" stroke="none" stroke-width="0.8" />
<circle cx="341.8" cy="104.5" r="13.4" fill="#fff" stroke="#2a2a2a" stroke-width="1.1"/>
<text x="341.8" y="108.5" text-anchor="middle" fill="#111" style="font-size:11.3px;font-family:'Liberation Sans'">8</text>
<line x1="339.93785939793656" y1="143.0771180421108" x2="368" y2="186.8" stroke="#2a2a2a" stroke-width="0.9"/>
<polygon points="368.0,186.8 362.7,181.9 365.7,179.9" fill="#111" stroke="none" stroke-width="0.8" />
<circle cx="332.7" cy="131.8" r="13.4" fill="#fff" stroke="#2a2a2a" stroke-width="1.1"/>
<text x="332.7" y="135.8" text-anchor="middle" fill="#111" style="font-size:11.3px;font-family:'Liberation Sans'">25</text>
<line x1="329.4749881042941" y1="164.22908894645238" x2="366.8" y2="191.1" stroke="#2a2a2a" stroke-width="0.9"/>
<polygon points="366.8,191.1 360.1,188.5 362.2,185.5" fill="#111" stroke="none" stroke-width="0.8" />
<circle cx="318.6" cy="156.4" r="13.4" fill="#fff" stroke="#2a2a2a" stroke-width="1.1"/>
<text x="318.6" y="160.4" text-anchor="middle" fill="#111" style="font-size:11.3px;font-family:'Liberation Sans'">7</text>
<line x1="293.2705975188628" y1="167.60683119362895" x2="371.4" y2="203.6" stroke="#2a2a2a" stroke-width="0.9"/>
<polygon points="371.4,203.6 364.3,202.3 365.8,199.0" fill="#111" stroke="none" stroke-width="0.8" />
<circle cx="281.1" cy="162" r="13.4" fill="#fff" stroke="#2a2a2a" stroke-width="1.1"/>
<text x="281.1" y="166" text-anchor="middle" fill="#111" style="font-size:11.3px;font-family:'Liberation Sans'">10</text>
<line x1="294.3653232150597" y1="199.89504617357994" x2="368.6" y2="210.5" stroke="#2a2a2a" stroke-width="0.9"/>
<polygon points="368.6,210.5 361.4,211.3 361.9,207.7" fill="#111" stroke="none" stroke-width="0.8" />
<circle cx="281.1" cy="198" r="13.4" fill="#fff" stroke="#2a2a2a" stroke-width="1.1"/>
<text x="281.1" y="202" text-anchor="middle" fill="#111" style="font-size:11.3px;font-family:'Liberation Sans'">2</text>
<line x1="294.4617785831944" y1="233.51137188693755" x2="349.8" y2="237.7" stroke="#2a2a2a" stroke-width="0.9"/>
<polygon points="349.8,237.7 342.7,239.0 343.0,235.4" fill="#111" stroke="none" stroke-width="0.8" />
<circle cx="281.1" cy="232.5" r="13.4" fill="#fff" stroke="#2a2a2a" stroke-width="1.1"/>
<text x="281.1" y="236.5" text-anchor="middle" fill="#111" style="font-size:11.3px;font-family:'Liberation Sans'">6</text>
<line x1="292.89416327656556" y1="261.65344276596403" x2="335" y2="252.5" stroke="#2a2a2a" stroke-width="0.9"/>
<polygon points="335.0,252.5 328.5,255.7 327.8,252.2" fill="#111" stroke="none" stroke-width="0.8" />
<circle cx="279.8" cy="264.5" r="13.4" fill="#fff" stroke="#2a2a2a" stroke-width="1.1"/>
<text x="279.8" y="268.5" text-anchor="middle" fill="#111" style="font-size:11.3px;font-family:'Liberation Sans'">3</text>
<line x1="294.6295597820969" y1="294.8053475291855" x2="360" y2="254.8" stroke="#2a2a2a" stroke-width="0.9"/>
<polygon points="360.0,254.8 355.0,260.0 353.1,256.9" fill="#111" stroke="none" stroke-width="0.8" />
<circle cx="283.2" cy="301.8" r="13.4" fill="#fff" stroke="#2a2a2a" stroke-width="1.1"/>
<text x="283.2" y="305.8" text-anchor="middle" fill="#111" style="font-size:11.3px;font-family:'Liberation Sans'">4</text>
<line x1="434.74486581994427" y1="106.79992489002088" x2="435" y2="183" stroke="#2a2a2a" stroke-width="0.9"/>
<polygon points="435.0,183.0 433.2,176.0 436.8,176.0" fill="#111" stroke="none" stroke-width="0.8" />
<circle cx="434.7" cy="93.4" r="13.4" fill="#fff" stroke="#2a2a2a" stroke-width="1.1"/>
<text x="434.7" y="97.4" text-anchor="middle" fill="#111" style="font-size:11.3px;font-family:'Liberation Sans'">14</text>
<line x1="479.1334566968111" y1="131.05865659938524" x2="454" y2="170" stroke="#2a2a2a" stroke-width="0.9"/>
<polygon points="454.0,170.0 456.3,163.1 459.3,165.1" fill="#111" stroke="none" stroke-width="0.8" />
<circle cx="486.4" cy="119.8" r="13.4" fill="#fff" stroke="#2a2a2a" stroke-width="1.1"/>
<text x="486.4" y="123.8" text-anchor="middle" fill="#111" style="font-size:11.3px;font-family:'Liberation Sans'">11</text>
<line x1="619.9024992509417" y1="194.95879273363707" x2="566" y2="196" stroke="#2a2a2a" stroke-width="0.9"/>
<polygon points="566.0,196.0 573.0,194.1 573.0,197.7" fill="#111" stroke="none" stroke-width="0.8" />
<circle cx="633.3" cy="194.7" r="13.4" fill="#fff" stroke="#2a2a2a" stroke-width="1.1"/>
<text x="633.3" y="198.7" text-anchor="middle" fill="#111" style="font-size:11.3px;font-family:'Liberation Sans'">8</text>
<line x1="638.829460976958" y1="282.71191991728875" x2="598" y2="280" stroke="#2a2a2a" stroke-width="0.9"/>
<polygon points="598.0,280.0 605.1,278.7 604.9,282.3" fill="#111" stroke="none" stroke-width="0.8" />
<circle cx="652.2" cy="283.6" r="13.4" fill="#fff" stroke="#2a2a2a" stroke-width="1.1"/>
<text x="652.2" y="287.6" text-anchor="middle" fill="#111" style="font-size:11.3px;font-family:'Liberation Sans'">9</text>
<line x1="597.2004798013958" y1="304.88660490664086" x2="539.7" y2="304.4" stroke="#2a2a2a" stroke-width="0.9"/>
<polygon points="539.7,304.4 546.7,302.7 546.7,306.3" fill="#111" stroke="none" stroke-width="0.8" />
<circle cx="610.6" cy="305" r="13.4" fill="#fff" stroke="#2a2a2a" stroke-width="1.1"/>
<text x="610.6" y="309" text-anchor="middle" fill="#111" style="font-size:11.3px;font-family:'Liberation Sans'">4</text>
<line x1="667.2042299256877" y1="323.56333382088366" x2="605" y2="322" stroke="#2a2a2a" stroke-width="0.9"/>
<polygon points="605.0,322.0 612.0,320.4 612.0,324.0" fill="#111" stroke="none" stroke-width="0.8" />
<circle cx="680.6" cy="323.9" r="13.4" fill="#fff" stroke="#2a2a2a" stroke-width="1.1"/>
<text x="680.6" y="327.9" text-anchor="middle" fill="#111" style="font-size:11.3px;font-family:'Liberation Sans'">12</text>
<line x1="638.8000000000001" y1="351.7" x2="603.6" y2="351.7" stroke="#2a2a2a" stroke-width="0.9"/>
<polygon points="603.6,351.7 610.6,349.9 610.6,353.5" fill="#111" stroke="none" stroke-width="0.8" />
<circle cx="652.2" cy="351.7" r="13.4" fill="#fff" stroke="#2a2a2a" stroke-width="1.1"/>
<text x="652.2" y="355.7" text-anchor="middle" fill="#111" style="font-size:11.3px;font-family:'Liberation Sans'">1</text>
<line x1="368.9174424709532" y1="293.39190986493327" x2="403" y2="283" stroke="#2a2a2a" stroke-width="0.9"/>
<circle cx="356.1" cy="297.3" r="13.4" fill="#fff" stroke="#2a2a2a" stroke-width="1.1"/>
<text x="356.1" y="301.3" text-anchor="middle" fill="#111" style="font-size:11.3px;font-family:'Liberation Sans'">15</text>
<line x1="368.5616696979396" y1="322.7795529627841" x2="443" y2="312" stroke="#2a2a2a" stroke-width="0.9"/>
<circle cx="355.3" cy="324.7" r="13.4" fill="#fff" stroke="#2a2a2a" stroke-width="1.1"/>
<text x="355.3" y="328.7" text-anchor="middle" fill="#111" style="font-size:11.3px;font-family:'Liberation Sans'">5</text>
<line x1="367.94498253267045" y1="349.9655421133514" x2="420.6" y2="331.5" stroke="#2a2a2a" stroke-width="0.9"/>
<polygon points="420.6,331.5 414.6,335.5 413.4,332.1" fill="#111" stroke="none" stroke-width="0.8" />
<circle cx="355.3" cy="354.4" r="13.4" fill="#fff" stroke="#2a2a2a" stroke-width="1.1"/>
<text x="355.3" y="358.4" text-anchor="middle" fill="#111" style="font-size:11.3px;font-family:'Liberation Sans'">17</text>
<line x1="358.08599745840206" y1="379.5124312562668" x2="375.3" y2="380.3" stroke="#2a2a2a" stroke-width="0.9"/>
<polygon points="375.3,380.3 368.2,381.8 368.4,378.2" fill="#111" stroke="none" stroke-width="0.8" />
<circle cx="344.7" cy="378.9" r="13.4" fill="#fff" stroke="#2a2a2a" stroke-width="1.1"/>
<text x="344.7" y="382.9" text-anchor="middle" fill="#111" style="font-size:11.3px;font-family:'Liberation Sans'">17</text>
<line x1="360.39665755765964" y1="413.36183784852017" x2="398.9" y2="402.5" stroke="#2a2a2a" stroke-width="0.9"/>
<polygon points="398.9,402.5 392.7,406.1 391.7,402.7" fill="#111" stroke="none" stroke-width="0.8" />
<circle cx="347.5" cy="417" r="13.4" fill="#fff" stroke="#2a2a2a" stroke-width="1.1"/>
<text x="347.5" y="421" text-anchor="middle" fill="#111" style="font-size:11.3px;font-family:'Liberation Sans'">21</text>
<line x1="558.3197348828685" y1="385.5000145323064" x2="558.4" y2="331" stroke="#2a2a2a" stroke-width="0.9"/>
<polygon points="558.4,331.0 560.2,338.0 556.6,338.0" fill="#111" stroke="none" stroke-width="0.8" />
<circle cx="558.3" cy="398.9" r="13.4" fill="#fff" stroke="#2a2a2a" stroke-width="1.1"/>
<text x="558.3" y="402.9" text-anchor="middle" fill="#111" style="font-size:11.3px;font-family:'Liberation Sans'">2</text>
<line x1="614.5440909834713" y1="406.8232337334351" x2="589.4" y2="379.4" stroke="#2a2a2a" stroke-width="0.9"/>
<polygon points="589.4,379.4 595.5,383.3 592.8,385.8" fill="#111" stroke="none" stroke-width="0.8" />
<circle cx="623.6" cy="416.7" r="13.4" fill="#fff" stroke="#2a2a2a" stroke-width="1.1"/>
<text x="623.6" y="420.7" text-anchor="middle" fill="#111" style="font-size:11.3px;font-family:'Liberation Sans'">6</text>
<line x1="538.342564792566" y1="411.0417878897631" x2="534.5" y2="362.5" stroke="#2a2a2a" stroke-width="0.9"/>
<polygon points="534.5,362.5 536.8,369.3 533.3,369.6" fill="#111" stroke="none" stroke-width="0.8" />
<circle cx="539.4" cy="424.4" r="13.4" fill="#fff" stroke="#2a2a2a" stroke-width="1.1"/>
<text x="539.4" y="428.4" text-anchor="middle" fill="#111" style="font-size:11.3px;font-family:'Liberation Sans'">13</text>
<line x1="532.6257865909607" y1="463.95963488325503" x2="507" y2="415.6" stroke="#2a2a2a" stroke-width="0.9"/>
<polygon points="507.0,415.6 511.9,420.9 508.7,422.6" fill="#111" stroke="none" stroke-width="0.8" />
<circle cx="538.9" cy="475.8" r="13.4" fill="#fff" stroke="#2a2a2a" stroke-width="1.1"/>
<text x="538.9" y="479.8" text-anchor="middle" fill="#111" style="font-size:11.3px;font-family:'Liberation Sans'">18</text>
<line x1="556.2999187329532" y1="516.5604771750131" x2="515.3" y2="531.4" stroke="#2a2a2a" stroke-width="0.9"/>
<polygon points="515.3,531.4 521.3,527.3 522.5,530.7" fill="#111" stroke="none" stroke-width="0.8" />
<circle cx="568.9" cy="512" r="13.4" fill="#fff" stroke="#2a2a2a" stroke-width="1.1"/>
<text x="568.9" y="516" text-anchor="middle" fill="#111" style="font-size:11.3px;font-family:'Liberation Sans'">23</text>
<line x1="585.6725107395572" y1="579.4127840249687" x2="541.8" y2="609.7" stroke="#2a2a2a" stroke-width="0.9"/>
<polygon points="541.8,609.7 546.5,604.2 548.6,607.2" fill="#111" stroke="none" stroke-width="0.8" />
<circle cx="596.7" cy="571.8" r="13.4" fill="#fff" stroke="#2a2a2a" stroke-width="1.1"/>
<text x="596.7" y="575.8" text-anchor="middle" fill="#111" style="font-size:11.3px;font-family:'Liberation Sans'">22</text>
<line x1="588.418999813726" y1="636.0247006126804" x2="548.3" y2="646.3" stroke="#2a2a2a" stroke-width="0.9"/>
<polygon points="548.3,646.3 554.6,642.8 555.5,646.3" fill="#111" stroke="none" stroke-width="0.8" />
<circle cx="601.4" cy="632.7" r="13.4" fill="#fff" stroke="#2a2a2a" stroke-width="1.1"/>
<text x="601.4" y="636.7" text-anchor="middle" fill="#111" style="font-size:11.3px;font-family:'Liberation Sans'">22</text>
<line x1="369.4408036018371" y1="597.8581570876529" x2="417.6" y2="602.4" stroke="#2a2a2a" stroke-width="0.9"/>
<polygon points="417.6,602.4 410.5,603.5 410.8,600.0" fill="#111" stroke="none" stroke-width="0.8" />
<circle cx="356.1" cy="596.6" r="13.4" fill="#fff" stroke="#2a2a2a" stroke-width="1.1"/>
<text x="356.1" y="600.6" text-anchor="middle" fill="#111" style="font-size:11.3px;font-family:'Liberation Sans'">20</text>
<line x1="389.9414311880028" y1="666.1755371967781" x2="422.8" y2="675" stroke="#2a2a2a" stroke-width="0.9"/>
<polygon points="422.8,675.0 415.6,674.9 416.5,671.4" fill="#111" stroke="none" stroke-width="0.8" />
<circle cx="377" cy="662.7" r="13.4" fill="#fff" stroke="#2a2a2a" stroke-width="1.1"/>
<text x="377" y="666.7" text-anchor="middle" fill="#111" style="font-size:11.3px;font-family:'Liberation Sans'">21</text>
<line x1="575.200347331792" y1="690.9470501648851" x2="539.2" y2="665.9" stroke="#2a2a2a" stroke-width="0.9"/>
<polygon points="539.2,665.9 546.0,668.4 543.9,671.4" fill="#111" stroke="none" stroke-width="0.8" />
<circle cx="586.2" cy="698.6" r="13.4" fill="#fff" stroke="#2a2a2a" stroke-width="1.1"/>
<text x="586.2" y="702.6" text-anchor="middle" fill="#111" style="font-size:11.3px;font-family:'Liberation Sans'">18</text>
<line x1="547.6757987915798" y1="715.6518259649691" x2="536.5" y2="696" stroke="#2a2a2a" stroke-width="0.9"/>
<polygon points="536.5,696.0 541.5,701.2 538.4,703.0" fill="#111" stroke="none" stroke-width="0.8" />
<circle cx="554.3" cy="727.3" r="13.4" fill="#fff" stroke="#2a2a2a" stroke-width="1.1"/>
<text x="554.3" y="731.3" text-anchor="middle" fill="#111" style="font-size:11.3px;font-family:'Liberation Sans'">19</text>
<circle cx="318.9" cy="498" r="13.4" fill="#fff" stroke="#2a2a2a" stroke-width="1.1"/>
<text x="318.9" y="502" text-anchor="middle" fill="#111" style="font-size:11.3px;font-family:'Liberation Sans'">16</text>
<path d="M379.5,425.6 L349.5,425.6 L349.5,570.3 L380.6,570.3" fill="none" stroke="#444" stroke-width="1.0" />
<line x1="332.3" y1="498" x2="349.5" y2="498" stroke="#444" stroke-width="1.0"/>
<rect x="58.5" y="34.5" width="1134.0" height="727.5" fill="none" stroke="#4c4a52" stroke-width="1.2"/><text x="68.5" y="46" text-anchor="start" fill="#111" style="font-size:9px;font-family:'Liberation Sans';font-weight:bold;"  textLength="155" lengthAdjust="spacingAndGlyphs">PROPRIETARY AND CONFIDENTIAL</text><text x="68.5" y="55.9" text-anchor="start" fill="#1a1a1a" style="font-size:9px;font-family:'Liberation Sans';"  textLength="348.6" lengthAdjust="spacingAndGlyphs">THE INFORMATION CONTAINED IN THIS DRAWING IS THE SOLE PROPERTY OF</text><text x="68.5" y="65.9" text-anchor="start" fill="#1a1a1a" style="font-size:9px;font-family:'Liberation Sans';"  textLength="302.5" lengthAdjust="spacingAndGlyphs">CAPSTAN AG INC. ANY REPRODUCTION IN PART OR AS A WHOLE</text><text x="68.5" y="75.4" text-anchor="start" fill="#1a1a1a" style="font-size:9px;font-family:'Liberation Sans';"  textLength="307.3" lengthAdjust="spacingAndGlyphs">WITHOUT WRITTEN PERMISSION OF CAPSTAN AG INC IS PROHIBITED</text><line x1="901.5" y1="34.5" x2="901.5" y2="104.5" stroke="#4c4a52" stroke-width="1.0"/><line x1="925.5" y1="34.5" x2="925.5" y2="104.5" stroke="#4c4a52" stroke-width="1.0"/><line x1="1098.5" y1="34.5" x2="1098.5" y2="104.5" stroke="#4c4a52" stroke-width="1.0"/><line x1="1142.5" y1="34.5" x2="1142.5" y2="104.5" stroke="#4c4a52" stroke-width="1.0"/><line x1="1166.5" y1="34.5" x2="1166.5" y2="104.5" stroke="#4c4a52" stroke-width="1.0"/><line x1="1192.5" y1="34.5" x2="1192.5" y2="104.5" stroke="#4c4a52" stroke-width="1.0"/><line x1="901.5" y1="34.5" x2="1192.5" y2="34.5" stroke="#4c4a52" stroke-width="1.0"/><line x1="901.5" y1="48.5" x2="1192.5" y2="48.5" stroke="#4c4a52" stroke-width="1.0"/><line x1="901.5" y1="62.5" x2="1192.5" y2="62.5" stroke="#4c4a52" stroke-width="1.0"/><line x1="901.5" y1="76.5" x2="1192.5" y2="76.5" stroke="#4c4a52" stroke-width="1.0"/><line x1="901.5" y1="90.5" x2="1192.5" y2="90.5" stroke="#4c4a52" stroke-width="1.0"/><line x1="901.5" y1="104.5" x2="1192.5" y2="104.5" stroke="#4c4a52" stroke-width="1.0"/><text x="905.3" y="44.8" text-anchor="start" fill="#111" style="font-size:9.3px;font-family:'Liberation Sans';font-weight:bold;"  textLength="18.3" lengthAdjust="spacingAndGlyphs">Rev</text><text x="980.6" y="44.8" text-anchor="start" fill="#111" style="font-size:9.3px;font-family:'Liberation Sans';font-weight:bold;"  textLength="54" lengthAdjust="spacingAndGlyphs">Description</text><text x="1110.5" y="44.8" text-anchor="start" fill="#111" style="font-size:9.3px;font-family:'Liberation Sans';font-weight:bold;"  textLength="21" lengthAdjust="spacingAndGlyphs">Date</text><text x="1149.2" y="44.8" text-anchor="start" fill="#111" style="font-size:9.3px;font-family:'Liberation Sans';font-weight:bold;"  textLength="12.5" lengthAdjust="spacingAndGlyphs">By</text><text x="1170" y="44.8" text-anchor="start" fill="#111" style="font-size:9.3px;font-family:'Liberation Sans';font-weight:bold;"  textLength="19.2" lengthAdjust="spacingAndGlyphs">App</text><text x="913.2" y="58.2" text-anchor="middle" fill="#111" style="font-size:9.6px;font-family:'Liberation Sans';" >A</text><text x="929.2" y="58.2" text-anchor="start" fill="#111" style="font-size:9.6px;font-family:'Liberation Sans';"  textLength="87.1" lengthAdjust="spacingAndGlyphs">Production Release</text><text x="1099.4" y="58.2" text-anchor="start" fill="#111" style="font-size:9.6px;font-family:'Liberation Sans';"  textLength="38.6" lengthAdjust="spacingAndGlyphs">10/19/04</text><text x="1143.8" y="58.2" text-anchor="start" fill="#111" style="font-size:9.6px;font-family:'Liberation Sans';"  textLength="18.9" lengthAdjust="spacingAndGlyphs">JJG</text><text x="913.2" y="72.2" text-anchor="middle" fill="#111" style="font-size:9.6px;font-family:'Liberation Sans';" >B</text><text x="929.2" y="72.2" text-anchor="start" fill="#111" style="font-size:9.6px;font-family:'Liberation Sans';"  textLength="67.5" lengthAdjust="spacingAndGlyphs">Change Valves</text><text x="1104.8" y="72.2" text-anchor="start" fill="#111" style="font-size:9.6px;font-family:'Liberation Sans';"  textLength="27.6" lengthAdjust="spacingAndGlyphs">2/9/06</text><text x="1143.8" y="72.2" text-anchor="start" fill="#111" style="font-size:9.6px;font-family:'Liberation Sans';"  textLength="20.8" lengthAdjust="spacingAndGlyphs">RDC</text><text x="913.2" y="86.2" text-anchor="middle" fill="#111" style="font-size:9.6px;font-family:'Liberation Sans';" >C</text><text x="929.2" y="86.2" text-anchor="start" fill="#111" style="font-size:9.6px;font-family:'Liberation Sans';"  textLength="101.2" lengthAdjust="spacingAndGlyphs">1/2-13 x 1 Bolt was x 2</text><text x="1100.6" y="86.2" text-anchor="start" fill="#111" style="font-size:9.6px;font-family:'Liberation Sans';"  textLength="31.5" lengthAdjust="spacingAndGlyphs">11/9/07</text><text x="1143.8" y="86.2" text-anchor="start" fill="#111" style="font-size:9.6px;font-family:'Liberation Sans';"  textLength="20.8" lengthAdjust="spacingAndGlyphs">RDC</text><text x="913.2" y="100.2" text-anchor="middle" fill="#111" style="font-size:9.6px;font-family:'Liberation Sans';" >D</text><text x="929.2" y="100.2" text-anchor="start" fill="#111" style="font-size:9.6px;font-family:'Liberation Sans';"  textLength="102.6" lengthAdjust="spacingAndGlyphs">Redrawn in SolidWorks</text><text x="1100.6" y="100.2" text-anchor="start" fill="#111" style="font-size:9.6px;font-family:'Liberation Sans';"  textLength="37.4" lengthAdjust="spacingAndGlyphs">11/16/12</text><text x="1143.8" y="100.2" text-anchor="start" fill="#111" style="font-size:9.6px;font-family:'Liberation Sans';"  textLength="18.3" lengthAdjust="spacingAndGlyphs">BLS</text><line x1="780" y1="320.2" x2="1192.5" y2="320.2" stroke="#4c4a52" stroke-width="1.1"/><line x1="780" y1="332.4" x2="1192.5" y2="332.4" stroke="#4c4a52" stroke-width="1.1"/><line x1="780" y1="344.6" x2="1192.5" y2="344.6" stroke="#4c4a52" stroke-width="1.1"/><line x1="780" y1="357.1" x2="1192.5" y2="357.1" stroke="#4c4a52" stroke-width="1.1"/><line x1="780" y1="369.6" x2="1192.5" y2="369.6" stroke="#4c4a52" stroke-width="1.1"/><line x1="780" y1="381.7" x2="1192.5" y2="381.7" stroke="#4c4a52" stroke-width="1.1"/><line x1="780" y1="394.2" x2="1192.5" y2="394.2" stroke="#4c4a52" stroke-width="1.1"/><line x1="780" y1="406.4" x2="1192.5" y2="406.4" stroke="#4c4a52" stroke-width="1.1"/><line x1="780" y1="418.6" x2="1192.5" y2="418.6" stroke="#4c4a52" stroke-width="1.1"/><line x1="780" y1="431.1" x2="1192.5" y2="431.1" stroke="#4c4a52" stroke-width="1.1"/><line x1="780" y1="443.6" x2="1192.5" y2="443.6" stroke="#4c4a52" stroke-width="1.1"/><line x1="780" y1="455.7" x2="1192.5" y2="455.7" stroke="#4c4a52" stroke-width="1.1"/><line x1="780" y1="468.2" x2="1192.5" y2="468.2" stroke="#4c4a52" stroke-width="1.1"/><line x1="780" y1="480.4" x2="1192.5" y2="480.4" stroke="#4c4a52" stroke-width="1.1"/><line x1="780" y1="492.6" x2="1192.5" y2="492.6" stroke="#4c4a52" stroke-width="1.1"/><line x1="780" y1="505.1" x2="1192.5" y2="505.1" stroke="#4c4a52" stroke-width="1.1"/><line x1="780" y1="517.6" x2="1192.5" y2="517.6" stroke="#4c4a52" stroke-width="1.1"/><line x1="780" y1="529.7" x2="1192.5" y2="529.7" stroke="#4c4a52" stroke-width="1.1"/><line x1="780" y1="542.3" x2="1192.5" y2="542.3" stroke="#4c4a52" stroke-width="1.1"/><line x1="780" y1="554.3" x2="1192.5" y2="554.3" stroke="#4c4a52" stroke-width="1.1"/><line x1="780" y1="566.6" x2="1192.5" y2="566.6" stroke="#4c4a52" stroke-width="1.1"/><line x1="780" y1="579.0" x2="1192.5" y2="579.0" stroke="#4c4a52" stroke-width="1.1"/><line x1="780" y1="591.5" x2="1192.5" y2="591.5" stroke="#4c4a52" stroke-width="1.1"/><line x1="780" y1="603.8" x2="1192.5" y2="603.8" stroke="#4c4a52" stroke-width="1.1"/><line x1="780" y1="616.2" x2="1192.5" y2="616.2" stroke="#4c4a52" stroke-width="1.1"/><line x1="780" y1="628.5" x2="1192.5" y2="628.5" stroke="#4c4a52" stroke-width="1.1"/><line x1="780" y1="642.2" x2="1192.5" y2="642.2" stroke="#4c4a52" stroke-width="1.1"/><line x1="780" y1="320.0" x2="780" y2="642.2" stroke="#4c4a52" stroke-width="1.0"/><line x1="813.5" y1="320.0" x2="813.5" y2="642.2" stroke="#4c4a52" stroke-width="1.0"/><line x1="909.5" y1="320.0" x2="909.5" y2="642.2" stroke="#4c4a52" stroke-width="1.0"/><line x1="1152.5" y1="320.0" x2="1152.5" y2="642.2" stroke="#4c4a52" stroke-width="1.0"/><line x1="1192.5" y1="320.0" x2="1192.5" y2="642.2" stroke="#4c4a52" stroke-width="1.0"/><text x="797" y="329.2" text-anchor="middle" fill="#111" style="font-size:9.3px;font-family:'Liberation Sans';" >25</text><text x="864" y="329.2" text-anchor="middle" fill="#111" style="font-size:9.3px;font-family:'Liberation Sans';letter-spacing:0.35px;" >625010-001</text><text x="916" y="329.2" text-anchor="start" fill="#111" style="font-size:9.3px;font-family:'Liberation Sans';letter-spacing:0.28px;" >Valve Body</text><text x="1171" y="329.2" text-anchor="middle" fill="#111" style="font-size:9.3px;font-family:'Liberation Sans';" >12</text><text x="797" y="341.4" text-anchor="middle" fill="#111" style="font-size:9.3px;font-family:'Liberation Sans';" >24</text><text x="864" y="341.4" text-anchor="middle" fill="#111" style="font-size:9.3px;font-family:'Liberation Sans';letter-spacing:0.35px;" >625014-006</text><text x="916" y="341.4" text-anchor="start" fill="#111" style="font-size:9.3px;font-family:'Liberation Sans';letter-spacing:0.28px;" >Office, 3/32 Half Flow</text><text x="1171" y="341.4" text-anchor="middle" fill="#111" style="font-size:9.3px;font-family:'Liberation Sans';" >2</text><text x="797" y="353.6" text-anchor="middle" fill="#111" style="font-size:9.3px;font-family:'Liberation Sans';" >23</text><text x="864" y="353.6" text-anchor="middle" fill="#111" style="font-size:9.3px;font-family:'Liberation Sans';letter-spacing:0.35px;" >625030-001</text><text x="916" y="353.6" text-anchor="start" fill="#111" style="font-size:9.3px;font-family:'Liberation Sans';letter-spacing:0.28px;" >Riser Tube</text><text x="1171" y="353.6" text-anchor="middle" fill="#111" style="font-size:9.3px;font-family:'Liberation Sans';" >1</text><text x="797" y="366.1" text-anchor="middle" fill="#111" style="font-size:9.3px;font-family:'Liberation Sans';" >22</text><text x="864" y="366.1" text-anchor="middle" fill="#111" style="font-size:9.3px;font-family:'Liberation Sans';letter-spacing:0.35px;" >620138-001</text><text x="916" y="366.1" text-anchor="start" fill="#111" style="font-size:9.3px;font-family:'Liberation Sans';letter-spacing:0.28px;" >Nut, 3/8-16 Flanged</text><text x="1171" y="366.1" text-anchor="middle" fill="#111" style="font-size:9.3px;font-family:'Liberation Sans';" >8</text><text x="797" y="378.6" text-anchor="middle" fill="#111" style="font-size:9.3px;font-family:'Liberation Sans';" >21</text><text x="864" y="378.6" text-anchor="middle" fill="#111" style="font-size:9.3px;font-family:'Liberation Sans';letter-spacing:0.35px;" >710100-524</text><text x="916" y="378.6" text-anchor="start" fill="#111" style="font-size:9.3px;font-family:'Liberation Sans';letter-spacing:0.28px;" >U-Bolt, 3/8-16 x 2"W x 3" Lg</text><text x="1171" y="378.6" text-anchor="middle" fill="#111" style="font-size:9.3px;font-family:'Liberation Sans';" >4</text><text x="797" y="390.7" text-anchor="middle" fill="#111" style="font-size:9.3px;font-family:'Liberation Sans';" >20</text><text x="864" y="390.7" text-anchor="middle" fill="#111" style="font-size:9.3px;font-family:'Liberation Sans';letter-spacing:0.35px;" >620114-001</text><text x="916" y="390.7" text-anchor="start" fill="#111" style="font-size:9.3px;font-family:'Liberation Sans';letter-spacing:0.28px;" >Nut, 1/2-13 Flanged SS</text><text x="1171" y="390.7" text-anchor="middle" fill="#111" style="font-size:9.3px;font-family:'Liberation Sans';" >2</text><text x="797" y="403.2" text-anchor="middle" fill="#111" style="font-size:9.3px;font-family:'Liberation Sans';" >19</text><text x="864" y="403.2" text-anchor="middle" fill="#111" style="font-size:9.3px;font-family:'Liberation Sans';letter-spacing:0.35px;" >625037-001</text><text x="916" y="403.2" text-anchor="start" fill="#111" style="font-size:9.3px;font-family:'Liberation Sans';letter-spacing:0.28px;" >Bolt, 1/2-13 x 1" Flanged</text><text x="1171" y="403.2" text-anchor="middle" fill="#111" style="font-size:9.3px;font-family:'Liberation Sans';" >2</text><text x="797" y="415.4" text-anchor="middle" fill="#111" style="font-size:9.3px;font-family:'Liberation Sans';" >18</text><text x="864" y="415.4" text-anchor="middle" fill="#111" style="font-size:9.3px;font-family:'Liberation Sans';letter-spacing:0.35px;" >620135-001</text><text x="916" y="415.4" text-anchor="start" fill="#111" style="font-size:9.3px;font-family:'Liberation Sans';letter-spacing:0.28px;" >Bracket, Mounting Enclosure</text><text x="1171" y="415.4" text-anchor="middle" fill="#111" style="font-size:9.3px;font-family:'Liberation Sans';" >2</text><text x="797" y="427.6" text-anchor="middle" fill="#111" style="font-size:9.3px;font-family:'Liberation Sans';" >17</text><text x="864" y="427.6" text-anchor="middle" fill="#111" style="font-size:9.3px;font-family:'Liberation Sans';letter-spacing:0.35px;" >625023-001</text><text x="916" y="427.6" text-anchor="start" fill="#111" style="font-size:9.3px;font-family:'Liberation Sans';letter-spacing:0.28px;" >Fitting, 1" NPT x 1 Hose Barbed</text><text x="1171" y="427.6" text-anchor="middle" fill="#111" style="font-size:9.3px;font-family:'Liberation Sans';" >3</text><text x="797" y="440.1" text-anchor="middle" fill="#111" style="font-size:9.3px;font-family:'Liberation Sans';" >16</text><text x="864" y="440.1" text-anchor="middle" fill="#111" style="font-size:9.3px;font-family:'Liberation Sans';letter-spacing:0.35px;" >625021-001</text><text x="916" y="440.1" text-anchor="start" fill="#111" style="font-size:9.3px;font-family:'Liberation Sans';letter-spacing:0.28px;" >Strainer Assembly, 80 Mesh</text><text x="1171" y="440.1" text-anchor="middle" fill="#111" style="font-size:9.3px;font-family:'Liberation Sans';" >1</text><text x="797" y="452.6" text-anchor="middle" fill="#111" style="font-size:9.3px;font-family:'Liberation Sans';" >15</text><text x="864" y="452.6" text-anchor="middle" fill="#111" style="font-size:9.3px;font-family:'Liberation Sans';letter-spacing:0.35px;" >620163-001</text><text x="916" y="452.6" text-anchor="start" fill="#111" style="font-size:9.3px;font-family:'Liberation Sans';letter-spacing:0.28px;" >Guage, 100 psi Liquid Filled</text><text x="1171" y="452.6" text-anchor="middle" fill="#111" style="font-size:9.3px;font-family:'Liberation Sans';" >1</text><text x="797" y="464.7" text-anchor="middle" fill="#111" style="font-size:9.3px;font-family:'Liberation Sans';" >14</text><text x="864" y="464.7" text-anchor="middle" fill="#111" style="font-size:9.3px;font-family:'Liberation Sans';letter-spacing:0.35px;" >625028-001</text><text x="916" y="464.7" text-anchor="start" fill="#111" style="font-size:9.3px;font-family:'Liberation Sans';letter-spacing:0.28px;" >Washer, 1/4" SS</text><text x="1171" y="464.7" text-anchor="middle" fill="#111" style="font-size:9.3px;font-family:'Liberation Sans';" >12</text><text x="797" y="477.2" text-anchor="middle" fill="#111" style="font-size:9.3px;font-family:'Liberation Sans';" >13</text><text x="864" y="477.2" text-anchor="middle" fill="#111" style="font-size:9.3px;font-family:'Liberation Sans';letter-spacing:0.35px;" >625027-001</text><text x="916" y="477.2" text-anchor="start" fill="#111" style="font-size:9.3px;font-family:'Liberation Sans';letter-spacing:0.28px;" >Nut, 1/4" Flanged SS</text><text x="1171" y="477.2" text-anchor="middle" fill="#111" style="font-size:9.3px;font-family:'Liberation Sans';" >12</text><text x="797" y="489.4" text-anchor="middle" fill="#111" style="font-size:9.3px;font-family:'Liberation Sans';" >12</text><text x="864" y="489.4" text-anchor="middle" fill="#111" style="font-size:9.3px;font-family:'Liberation Sans';letter-spacing:0.35px;" >625026-001</text><text x="916" y="489.4" text-anchor="start" fill="#111" style="font-size:9.3px;font-family:'Liberation Sans';letter-spacing:0.28px;" >Bolt, 1/4-20 x 1-3/4 SS</text><text x="1171" y="489.4" text-anchor="middle" fill="#111" style="font-size:9.3px;font-family:'Liberation Sans';" >12</text><text x="797" y="501.6" text-anchor="middle" fill="#111" style="font-size:9.3px;font-family:'Liberation Sans';" >11</text><text x="864" y="501.6" text-anchor="middle" fill="#111" style="font-size:9.3px;font-family:'Liberation Sans';letter-spacing:0.35px;" >625025-001</text><text x="916" y="501.6" text-anchor="start" fill="#111" style="font-size:9.3px;font-family:'Liberation Sans';letter-spacing:0.28px;" >Bolt, 1/4-20 x 3/4 SS</text><text x="1171" y="501.6" text-anchor="middle" fill="#111" style="font-size:9.3px;font-family:'Liberation Sans';" >12</text><text x="797" y="514.1" text-anchor="middle" fill="#111" style="font-size:9.3px;font-family:'Liberation Sans';" >10</text><text x="864" y="514.1" text-anchor="middle" fill="#111" style="font-size:9.3px;font-family:'Liberation Sans';letter-spacing:0.35px;" >625014-007</text><text x="916" y="514.1" text-anchor="start" fill="#111" style="font-size:9.3px;font-family:'Liberation Sans';letter-spacing:0.28px;" >Ball, Indicator</text><text x="1171" y="514.1" text-anchor="middle" fill="#111" style="font-size:9.3px;font-family:'Liberation Sans';" >12</text><text x="797" y="526.6" text-anchor="middle" fill="#111" style="font-size:9.3px;font-family:'Liberation Sans';" >9</text><text x="864" y="526.6" text-anchor="middle" fill="#111" style="font-size:9.3px;font-family:'Liberation Sans';letter-spacing:0.35px;" >625024-001</text><text x="916" y="526.6" text-anchor="start" fill="#111" style="font-size:9.3px;font-family:'Liberation Sans';letter-spacing:0.28px;" >Fitting, 1/4 NPT x 1/2</text><text x="1171" y="526.6" text-anchor="middle" fill="#111" style="font-size:9.3px;font-family:'Liberation Sans';" >12</text><text x="797" y="538.7" text-anchor="middle" fill="#111" style="font-size:9.3px;font-family:'Liberation Sans';" >8</text><text x="864" y="538.7" text-anchor="middle" fill="#111" style="font-size:9.3px;font-family:'Liberation Sans';letter-spacing:0.35px;" >625013-002</text><text x="916" y="538.7" text-anchor="start" fill="#111" style="font-size:9.3px;font-family:'Liberation Sans';letter-spacing:0.28px;" >Valve Assembly 5/32</text><text x="1171" y="538.7" text-anchor="middle" fill="#111" style="font-size:9.3px;font-family:'Liberation Sans';" >12</text><text x="797" y="551.3" text-anchor="middle" fill="#111" style="font-size:9.3px;font-family:'Liberation Sans';" >7</text><text x="864" y="551.3" text-anchor="middle" fill="#111" style="font-size:9.3px;font-family:'Liberation Sans';letter-spacing:0.35px;" >625014-005</text><text x="916" y="551.3" text-anchor="start" fill="#111" style="font-size:9.3px;font-family:'Liberation Sans';letter-spacing:0.28px;" >Ball Retainer</text><text x="1171" y="551.3" text-anchor="middle" fill="#111" style="font-size:9.3px;font-family:'Liberation Sans';" >12</text><text x="797" y="563.3" text-anchor="middle" fill="#111" style="font-size:9.3px;font-family:'Liberation Sans';" >6</text><text x="864" y="563.3" text-anchor="middle" fill="#111" style="font-size:9.3px;font-family:'Liberation Sans';letter-spacing:0.35px;" >625016-002</text><text x="916" y="563.3" text-anchor="start" fill="#111" style="font-size:9.3px;font-family:'Liberation Sans';letter-spacing:0.28px;" >End Cap</text><text x="1171" y="563.3" text-anchor="middle" fill="#111" style="font-size:9.3px;font-family:'Liberation Sans';" >2</text><text x="797" y="575.6" text-anchor="middle" fill="#111" style="font-size:9.3px;font-family:'Liberation Sans';" >5</text><text x="864" y="575.6" text-anchor="middle" fill="#111" style="font-size:9.3px;font-family:'Liberation Sans';letter-spacing:0.35px;" >625015-002</text><text x="916" y="575.6" text-anchor="start" fill="#111" style="font-size:9.3px;font-family:'Liberation Sans';letter-spacing:0.28px;" >Tee,Indicator</text><text x="1171" y="575.6" text-anchor="middle" fill="#111" style="font-size:9.3px;font-family:'Liberation Sans';" >1</text><text x="797" y="588.0" text-anchor="middle" fill="#111" style="font-size:9.3px;font-family:'Liberation Sans';" >4</text><text x="864" y="588.0" text-anchor="middle" fill="#111" style="font-size:9.3px;font-family:'Liberation Sans';letter-spacing:0.35px;" >625014-004</text><text x="916" y="588.0" text-anchor="start" fill="#111" style="font-size:9.3px;font-family:'Liberation Sans';letter-spacing:0.28px;" >O-Ring</text><text x="1171" y="588.0" text-anchor="middle" fill="#111" style="font-size:9.3px;font-family:'Liberation Sans';" >14</text><text x="797" y="600.5" text-anchor="middle" fill="#111" style="font-size:9.3px;font-family:'Liberation Sans';" >3</text><text x="864" y="600.5" text-anchor="middle" fill="#111" style="font-size:9.3px;font-family:'Liberation Sans';letter-spacing:0.35px;" >625014-003</text><text x="916" y="600.5" text-anchor="start" fill="#111" style="font-size:9.3px;font-family:'Liberation Sans';letter-spacing:0.28px;" >Clip</text><text x="1171" y="600.5" text-anchor="middle" fill="#111" style="font-size:9.3px;font-family:'Liberation Sans';" >26</text><text x="797" y="612.8" text-anchor="middle" fill="#111" style="font-size:9.3px;font-family:'Liberation Sans';" >2</text><text x="864" y="612.8" text-anchor="middle" fill="#111" style="font-size:9.3px;font-family:'Liberation Sans';letter-spacing:0.35px;" >625014-002</text><text x="916" y="612.8" text-anchor="start" fill="#111" style="font-size:9.3px;font-family:'Liberation Sans';letter-spacing:0.28px;" >Indicator Body</text><text x="1171" y="612.8" text-anchor="middle" fill="#111" style="font-size:9.3px;font-family:'Liberation Sans';" >12</text><text x="797" y="625.2" text-anchor="middle" fill="#111" style="font-size:9.3px;font-family:'Liberation Sans';" >1</text><text x="864" y="625.2" text-anchor="middle" fill="#111" style="font-size:9.3px;font-family:'Liberation Sans';letter-spacing:0.35px;" >625011-001</text><text x="916" y="625.2" text-anchor="start" fill="#111" style="font-size:9.3px;font-family:'Liberation Sans';letter-spacing:0.28px;" >Bracket, LF, Indicator/Valve</text><text x="1171" y="625.2" text-anchor="middle" fill="#111" style="font-size:9.3px;font-family:'Liberation Sans';" >1</text><text x="786.5" y="638.8" text-anchor="start" fill="#111" style="font-size:10px;font-family:'Liberation Sans';font-weight:bold;"  textLength="20.3" lengthAdjust="spacingAndGlyphs">Item</text><text x="833.8" y="638.8" text-anchor="start" fill="#111" style="font-size:10px;font-family:'Liberation Sans';font-weight:bold;"  textLength="62" lengthAdjust="spacingAndGlyphs">Part Number</text><text x="984.5" y="638.8" text-anchor="start" fill="#111" style="font-size:10px;font-family:'Liberation Sans';font-weight:bold;"  textLength="56.6" lengthAdjust="spacingAndGlyphs">Description</text><text x="1164.2" y="638.8" text-anchor="start" fill="#111" style="font-size:10px;font-family:'Liberation Sans';font-weight:bold;"  textLength="15.7" lengthAdjust="spacingAndGlyphs">Qty</text><line x1="780" y1="642" x2="780" y2="762" stroke="#4c4a52" stroke-width="1.0"/><line x1="879.5" y1="642" x2="879.5" y2="762" stroke="#4c4a52" stroke-width="1.0"/><line x1="780" y1="654.5" x2="879.5" y2="654.5" stroke="#4c4a52" stroke-width="1.0"/><line x1="780" y1="703.5" x2="879.5" y2="703.5" stroke="#4c4a52" stroke-width="1.0"/><line x1="780" y1="720.5" x2="879.5" y2="720.5" stroke="#4c4a52" stroke-width="1.0"/><line x1="780" y1="736.5" x2="879.5" y2="736.5" stroke="#4c4a52" stroke-width="1.0"/><line x1="879.5" y1="676.5" x2="1192.5" y2="676.5" stroke="#4c4a52" stroke-width="1.0"/><line x1="879.5" y1="684.5" x2="979.5" y2="684.5" stroke="#4c4a52" stroke-width="1.0"/><line x1="879.5" y1="695.5" x2="979.5" y2="695.5" stroke="#4c4a52" stroke-width="1.0"/><line x1="879.5" y1="707.5" x2="979.5" y2="707.5" stroke="#4c4a52" stroke-width="1.0"/><line x1="879.5" y1="720.5" x2="1192.5" y2="720.5" stroke="#4c4a52" stroke-width="1.0"/><line x1="909.5" y1="676.5" x2="909.5" y2="720.5" stroke="#4c4a52" stroke-width="1.0"/><line x1="945.5" y1="676.5" x2="945.5" y2="720.5" stroke="#4c4a52" stroke-width="1.0"/><line x1="979.5" y1="676.5" x2="979.5" y2="762" stroke="#4c4a52" stroke-width="1.0"/><line x1="979.5" y1="744.5" x2="1192.5" y2="744.5" stroke="#4c4a52" stroke-width="1.0"/><line x1="1004.5" y1="720.5" x2="1004.5" y2="744.5" stroke="#4c4a52" stroke-width="1.0"/><line x1="1166.5" y1="720.5" x2="1166.5" y2="744.5" stroke="#4c4a52" stroke-width="1.0"/><line x1="1127.5" y1="744.5" x2="1127.5" y2="762" stroke="#4c4a52" stroke-width="1.0"/><text x="781.9" y="650.4" text-anchor="start" fill="#333" style="font-size:5.4px;font-family:'Liberation Sans';"  textLength="92.3" lengthAdjust="spacingAndGlyphs">UNLESS OTHERWISE SPECIFIED:</text><text x="781.2" y="662.9" text-anchor="start" fill="#333" style="font-size:5.4px;font-family:'Liberation Sans';"  textLength="79.6" lengthAdjust="spacingAndGlyphs">DIMENSIONS ARE IN INCHES</text><text x="781.2" y="669.7" text-anchor="start" fill="#333" style="font-size:5.4px;font-family:'Liberation Sans';"  textLength="38.8" lengthAdjust="spacingAndGlyphs">TOLERANCES:</text><text x="781.2" y="677.1" text-anchor="start" fill="#333" style="font-size:5.4px;font-family:'Liberation Sans';"  textLength="41" lengthAdjust="spacingAndGlyphs">FRACTIONAL±</text><text x="781.2" y="684.7" text-anchor="start" fill="#333" style="font-size:5.4px;font-family:'Liberation Sans';"  textLength="50" lengthAdjust="spacingAndGlyphs">ANGULAR: MACH±</text><text x="846" y="684.7" text-anchor="start" fill="#333" style="font-size:5.4px;font-family:'Liberation Sans';"  textLength="21.6" lengthAdjust="spacingAndGlyphs">BEND ±</text><text x="781.2" y="692.6" text-anchor="start" fill="#333" style="font-size:5.4px;font-family:'Liberation Sans';"  textLength="56" lengthAdjust="spacingAndGlyphs">TWO PLACE DECIMAL</text><text x="852" y="692.6" text-anchor="start" fill="#333" style="font-size:5.4px;font-family:'Liberation Sans';" >±</text><text x="781.2" y="699.8" text-anchor="start" fill="#333" style="font-size:5.4px;font-family:'Liberation Sans';"  textLength="62" lengthAdjust="spacingAndGlyphs">THREE PLACE DECIMAL</text><text x="852" y="699.8" text-anchor="start" fill="#333" style="font-size:5.4px;font-family:'Liberation Sans';" >±</text><text x="782.7" y="709.7" text-anchor="start" fill="#333" style="font-size:5.4px;font-family:'Liberation Sans';"  textLength="60.1" lengthAdjust="spacingAndGlyphs">INTERPRET GEOMETRIC</text><text x="782.7" y="716.9" text-anchor="start" fill="#333" style="font-size:5.4px;font-family:'Liberation Sans';"  textLength="51.5" lengthAdjust="spacingAndGlyphs">TOLERANCING PER:</text><text x="782" y="726.9" text-anchor="start" fill="#333" style="font-size:5.4px;font-family:'Liberation Sans';"  textLength="25.6" lengthAdjust="spacingAndGlyphs">MATERIAL</text><text x="782" y="740.6" text-anchor="start" fill="#333" style="font-size:5.4px;font-family:'Liberation Sans';"  textLength="16.2" lengthAdjust="spacingAndGlyphs">FINISH</text><text x="792.2" y="757.6" text-anchor="start" fill="#333" style="font-size:5.4px;font-family:'Liberation Sans';"  textLength="72.9" lengthAdjust="spacingAndGlyphs">DO NOT SCALE DRAWING</text><text x="914.8" y="682.6" text-anchor="start" fill="#333" style="font-size:5.4px;font-family:'Liberation Sans';"  textLength="16.3" lengthAdjust="spacingAndGlyphs">Name</text><text x="954.3" y="682.6" text-anchor="start" fill="#333" style="font-size:5.4px;font-family:'Liberation Sans';"  textLength="12.5" lengthAdjust="spacingAndGlyphs">Date</text><text x="883.1" y="693.8" text-anchor="start" fill="#333" style="font-size:5.4px;font-family:'Liberation Sans';"  textLength="18.5" lengthAdjust="spacingAndGlyphs">Drawn</text><text x="883.9" y="704.9" text-anchor="start" fill="#333" style="font-size:5.4px;font-family:'Liberation Sans';"  textLength="24.1" lengthAdjust="spacingAndGlyphs">Checked</text><text x="882.7" y="716.9" text-anchor="start" fill="#333" style="font-size:5.4px;font-family:'Liberation Sans';"  textLength="23.5" lengthAdjust="spacingAndGlyphs">QA APP</text><text x="911.9" y="693.2" text-anchor="start" fill="#111" style="font-size:11.2px;font-family:'Liberation Sans';"  textLength="21.3" lengthAdjust="spacingAndGlyphs">JJG</text><text x="947.1" y="692.5" text-anchor="start" fill="#111" style="font-size:7px;font-family:'Liberation Sans';"  textLength="28.7" lengthAdjust="spacingAndGlyphs">10/19/04</text><text x="984.9" y="658.6" text-anchor="start" fill="#111" style="font-size:12.8px;font-family:'Liberation Sans';font-weight:bold;"  textLength="184.6" lengthAdjust="spacingAndGlyphs">CAPSTAN AG SYSTEMS, INC.</text><text x="967" y="671.9" text-anchor="start" fill="#111" style="font-size:10.3px;font-family:'Liberation Sans';font-weight:bold;"  textLength="219.8" lengthAdjust="spacingAndGlyphs">101 N. KANSAS AVE., TOPEKA, KS 66603</text><text x="982" y="682" text-anchor="start" fill="#333" style="font-size:5.4px;font-family:'Liberation Sans';" >TITLE:</text><text x="1044.5" y="697.7" text-anchor="start" fill="#111" style="font-size:12.8px;font-family:'Liberation Sans';"  textLength="117.1" lengthAdjust="spacingAndGlyphs">Manifold Assembly</text><text x="1036.2" y="711.5" text-anchor="start" fill="#111" style="font-size:12.8px;font-family:'Liberation Sans';"  textLength="140.1" lengthAdjust="spacingAndGlyphs">N-ject LF 1215 &amp; 2425</text><text x="985" y="726.5" text-anchor="start" fill="#333" style="font-size:5.4px;font-family:'Liberation Sans';"  textLength="13" lengthAdjust="spacingAndGlyphs">SIZE</text><text x="1012.3" y="726.5" text-anchor="start" fill="#333" style="font-size:5.4px;font-family:'Liberation Sans';"  textLength="26" lengthAdjust="spacingAndGlyphs">DWG No:</text><text x="1174" y="726.5" text-anchor="start" fill="#333" style="font-size:5.4px;font-family:'Liberation Sans';"  textLength="12" lengthAdjust="spacingAndGlyphs">REV</text><text x="987" y="740.4" text-anchor="start" fill="#111" style="font-size:11.7px;font-family:'Liberation Sans';" >B</text><text x="1058" y="736.3" text-anchor="start" fill="#111" style="font-size:14.5px;font-family:'Liberation Sans';"  textLength="84.3" lengthAdjust="spacingAndGlyphs">625105-001</text><text x="1175" y="736.7" text-anchor="start" fill="#111" style="font-size:11.7px;font-family:'Liberation Sans';" >D</text><text x="982.4" y="754.9" text-anchor="start" fill="#111" style="font-size:9.2px;font-family:'Liberation Sans';"  textLength="33" lengthAdjust="spacingAndGlyphs">SCALE:</text><text x="1030.7" y="754.9" text-anchor="start" fill="#111" style="font-size:11.7px;font-family:'Liberation Sans';"  textLength="30.3" lengthAdjust="spacingAndGlyphs">None</text><text x="1133.1" y="759.3" text-anchor="start" fill="#111" style="font-size:8.8px;font-family:'Liberation Sans';"  textLength="57" lengthAdjust="spacingAndGlyphs">SHEET 1 of 1</text><g><rect x="882" y="649.5" width="19" height="5.5" fill="#2a2a30"/><rect x="884.5" y="651.2" width="2" height="2" fill="#fff"/><rect x="888.7" y="651.2" width="2" height="2" fill="#fff"/><rect x="892.9" y="651.2" width="2" height="2" fill="#fff"/><rect x="897.1" y="651.2" width="2" height="2" fill="#fff"/><rect x="901" y="651.8" width="46" height="1.3" fill="#333"/><rect x="885" y="655" width="13" height="13" fill="#2a2a30"/><rect x="886.5" y="656.5" width="10" height="0.9" fill="#bbb"/><rect x="886.5" y="658.8" width="10" height="0.9" fill="#bbb"/><rect x="886.5" y="661.1" width="10" height="0.9" fill="#bbb"/><rect x="886.5" y="663.4" width="10" height="0.9" fill="#bbb"/><rect x="886.5" y="665.7" width="10" height="0.9" fill="#bbb"/><rect x="881.5" y="668.3" width="20" height="4.5" fill="#444"/><rect x="883.5" y="669.8" width="1.8" height="1.5" fill="#ddd"/><rect x="887.1" y="669.8" width="1.8" height="1.5" fill="#ddd"/><rect x="890.7" y="669.8" width="1.8" height="1.5" fill="#ddd"/><rect x="894.3" y="669.8" width="1.8" height="1.5" fill="#ddd"/><rect x="897.9" y="669.8" width="1.8" height="1.5" fill="#ddd"/></g><text x="901.7" y="663.8" text-anchor="start" fill="#222" style="font-size:10.8px;font-family:'Liberation Serif';"  textLength="51.5" lengthAdjust="spacingAndGlyphs">CAPSTAN</text><text x="904" y="670.7" text-anchor="start" fill="#333" style="font-size:6.3px;font-family:'Liberation Serif';" font-style="italic" textLength="48" lengthAdjust="spacingAndGlyphs">Ag Systems, Inc.</text>
</svg>
</body></html>
